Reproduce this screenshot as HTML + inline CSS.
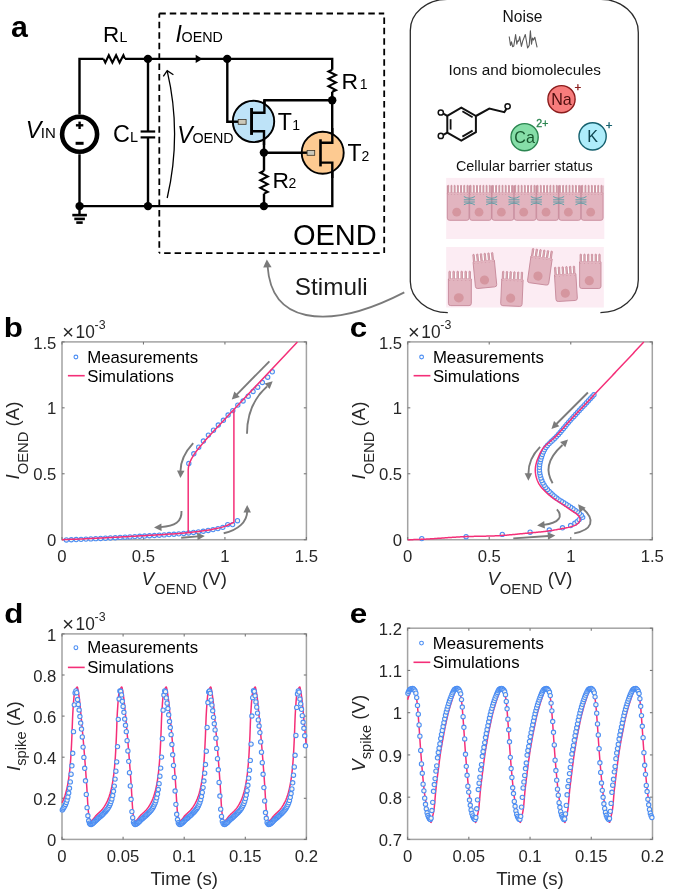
<!DOCTYPE html>
<html><head><meta charset="utf-8"><style>
html,body{margin:0;padding:0;background:#fff;}
body{width:685px;height:894px;overflow:hidden;}
svg{display:block;will-change:transform;}
text{font-family:"Liberation Sans",sans-serif;}
</style></head><body>
<svg width="685" height="894" viewBox="0 0 685 894" font-family="Liberation Sans, sans-serif">
<rect width="685" height="894" fill="#fff"/>
<g id="circuit">
<polyline points="79.5,114.5 79.5,58.9 103.5,58.9" fill="none" stroke="#000" stroke-width="2.4" stroke-linejoin="miter" />
<polyline points="103.5,58.9 105.3,62.6 108.8,55.2 112.4,62.6 116.1,55.2 119.6,62.6 123.4,55.2 125,58.9" fill="none" stroke="#000" stroke-width="2.1" stroke-linejoin="miter" stroke-miterlimit="10"/>
<polyline points="125,58.9 332.2,58.9 332.2,69.7" fill="none" stroke="#000" stroke-width="2.4" stroke-linejoin="miter" stroke-linecap="butt"/>
<polyline points="332.2,69.7 328.5,71.54 335.9,75.12 328.5,78.81 335.9,82.59 328.5,86.17 335.9,90.06 332.2,91.7" fill="none" stroke="#000" stroke-width="2.1" stroke-linejoin="miter" stroke-miterlimit="10"/>
<line x1="332.2" y1="91.7" x2="332.2" y2="142.8" stroke="#000" stroke-width="2.4" />
<polyline points="253,112.7 264.4,112.7 264.4,100.2 332.2,100.2" fill="none" stroke="#000" stroke-width="2.4" stroke-linejoin="miter" />
<polyline points="227.3,58.9 227.3,121.7 238.5,121.7" fill="none" stroke="#000" stroke-width="2.4" stroke-linejoin="miter" />
<polyline points="253,131.2 264,131.2 264,170.8" fill="none" stroke="#000" stroke-width="2.4" stroke-linejoin="miter" />
<polyline points="264,170.8 260.3,172.71 267.7,176.42 260.3,180.24 267.7,184.16 260.3,187.87 267.7,191.9 264,193.6" fill="none" stroke="#000" stroke-width="2.1" stroke-linejoin="miter" stroke-miterlimit="10"/>
<line x1="264" y1="193.6" x2="264" y2="206" stroke="#000" stroke-width="2.4" />
<line x1="264" y1="152.7" x2="307.2" y2="152.7" stroke="#000" stroke-width="2.4" />
<polyline points="321.8,142.8 332.3,142.8" fill="none" stroke="#000" stroke-width="2.4" stroke-linejoin="miter" />
<polyline points="321.8,162.6 332.3,162.6 332.3,206.1 79.5,206.1 79.5,154.2" fill="none" stroke="#000" stroke-width="2.4" stroke-linejoin="miter" />
<line x1="79.5" y1="206" x2="79.5" y2="215" stroke="#000" stroke-width="2.4" />
<line x1="72.3" y1="215.1" x2="86.9" y2="215.1" stroke="#000" stroke-width="2.6" />
<line x1="74.3" y1="218.9" x2="84.9" y2="218.9" stroke="#000" stroke-width="2.6" />
<line x1="76.3" y1="222.6" x2="82.7" y2="222.6" stroke="#000" stroke-width="2.6" />
<line x1="148" y1="58.9" x2="148" y2="131.5" stroke="#000" stroke-width="2.4" />
<line x1="148" y1="137.4" x2="148" y2="206.1" stroke="#000" stroke-width="2.4" />
<line x1="140.6" y1="131.5" x2="155.2" y2="131.5" stroke="#000" stroke-width="2.2" />
<line x1="140.6" y1="137.4" x2="155.2" y2="137.4" stroke="#000" stroke-width="2.2" />
<circle cx="79.6" cy="134.3" r="17.5" fill="none" stroke="#000" stroke-width="4.6"/>
<line x1="75.9" y1="125.3" x2="83.3" y2="125.3" stroke="#000" stroke-width="2.4" />
<line x1="79.6" y1="121.6" x2="79.6" y2="129" stroke="#000" stroke-width="2.4" />
<line x1="75.6" y1="143.3" x2="83.6" y2="143.3" stroke="#000" stroke-width="3.0" />
<circle cx="253.5" cy="121.4" r="20.7" fill="#bee3f8" stroke="#000" stroke-width="1.9"/>
<line x1="232" y1="121.7" x2="238.5" y2="121.7" stroke="#000" stroke-width="2.4" />
<rect x="238.2" y="119.4" width="7.9" height="4.9" fill="#cbc8ba" stroke="#3b3326" stroke-width="0.8"/>
<rect x="250.1" y="108" width="2.9" height="26.9" fill="#000"/>
<polyline points="253,112.7 264.4,112.7 264.4,100.2" fill="none" stroke="#000" stroke-width="2.4" stroke-linejoin="miter" />
<polyline points="253,131.2 264,131.2 264,145" fill="none" stroke="#000" stroke-width="2.4" stroke-linejoin="miter" />
<circle cx="322.7" cy="152.8" r="21" fill="#fdca91" stroke="#000" stroke-width="1.9"/>
<line x1="301" y1="152.7" x2="307.4" y2="152.7" stroke="#000" stroke-width="2.4" />
<rect x="307.1" y="150.4" width="7.6" height="4.9" fill="#cbc8ba" stroke="#3b3326" stroke-width="0.8"/>
<rect x="319.2" y="139.3" width="2.6" height="27.1" fill="#000"/>
<polyline points="321,142.8 332.3,142.8 332.3,128" fill="none" stroke="#000" stroke-width="2.4" stroke-linejoin="miter" />
<polyline points="321,162.6 332.3,162.6 332.3,178" fill="none" stroke="#000" stroke-width="2.4" stroke-linejoin="miter" />
<circle cx="147.9" cy="58.9" r="4.2" fill="#000"/>
<circle cx="227.2" cy="58.9" r="4.2" fill="#000"/>
<circle cx="332.2" cy="100.2" r="4.2" fill="#000"/>
<circle cx="263.9" cy="152.6" r="4.2" fill="#000"/>
<circle cx="263.9" cy="206.1" r="4.2" fill="#000"/>
<circle cx="79.6" cy="206.1" r="4.2" fill="#000"/>
<circle cx="148" cy="206.1" r="4.2" fill="#000"/>
<polygon points="195.7,54.7 202.4,58.9 195.7,63.1" fill="#000"/>
<path d="M167.2,198 Q182,134 167.2,70.8" fill="none" stroke="#000" stroke-width="1.3"/>
<polyline points="163.3,76.4 167.2,70.6 173.4,74.8" fill="none" stroke="#000" stroke-width="1.3"/>
<line x1="159.3" y1="13.5" x2="384.2" y2="13.5" stroke="#000" stroke-width="1.8" stroke-dasharray="6.5 3.95"/>
<line x1="159.3" y1="253.1" x2="159.3" y2="13.5" stroke="#000" stroke-width="1.8" stroke-dasharray="6.5 3.95" stroke-dashoffset="5.1"/>
<line x1="384.2" y1="13.5" x2="384.2" y2="253.1" stroke="#000" stroke-width="1.8" stroke-dasharray="6.5 3.95" stroke-dashoffset="6.55"/>
<line x1="159.3" y1="253.1" x2="383" y2="253.1" stroke="#000" stroke-width="1.8" stroke-dasharray="6.5 3.95" stroke-dashoffset="5.6"/>
<text x="10.9" y="36.6" font-size="30.3" font-weight="bold" font-style="normal" text-anchor="start" fill="#000" >a</text>
<text x="103.1" y="42.2" font-size="22.4" font-weight="normal" font-style="normal" text-anchor="start" fill="#000" >R</text>
<text x="119.5" y="42.2" font-size="14.2" font-weight="normal" font-style="normal" text-anchor="start" fill="#000" >L</text>
<text x="175.6" y="41.9" font-size="23" font-weight="normal" font-style="italic" text-anchor="start" fill="#000" >I</text>
<text x="181.6" y="41.9" font-size="14.3" font-weight="normal" font-style="normal" text-anchor="start" fill="#000" >OEND</text>
<text x="25.8" y="138.4" font-size="23.5" font-weight="normal" font-style="italic" text-anchor="start" fill="#000" >V</text>
<text x="40.8" y="138.4" font-size="15" font-weight="normal" font-style="normal" text-anchor="start" fill="#000" >IN</text>
<text x="112.9" y="141.5" font-size="23.4" font-weight="normal" font-style="normal" text-anchor="start" fill="#000" >C</text>
<text x="130" y="141.5" font-size="14.5" font-weight="normal" font-style="normal" text-anchor="start" fill="#000" >L</text>
<text x="177.3" y="142.9" font-size="23" font-weight="normal" font-style="italic" text-anchor="start" fill="#000" >V</text>
<text x="192.4" y="142.9" font-size="14.3" font-weight="normal" font-style="normal" text-anchor="start" fill="#000" >OEND</text>
<text x="277.7" y="130" font-size="23.2" font-weight="normal" font-style="normal" text-anchor="start" fill="#000" >T</text>
<text x="292.3" y="130" font-size="14" font-weight="normal" font-style="normal" text-anchor="start" fill="#000" >1</text>
<text x="347.4" y="161.2" font-size="23.0" font-weight="normal" font-style="normal" text-anchor="start" fill="#000" >T</text>
<text x="361.6" y="161.2" font-size="14" font-weight="normal" font-style="normal" text-anchor="start" fill="#000" >2</text>
<text x="341.5" y="88.5" font-size="22.9" font-weight="normal" font-style="normal" text-anchor="start" fill="#000" >R</text>
<text x="359.8" y="88.5" font-size="14" font-weight="normal" font-style="normal" text-anchor="start" fill="#000" >1</text>
<text x="272.6" y="188.3" font-size="22.8" font-weight="normal" font-style="normal" text-anchor="start" fill="#000" >R</text>
<text x="288.6" y="188.3" font-size="14" font-weight="normal" font-style="normal" text-anchor="start" fill="#000" >2</text>
<text x="292.9" y="244.6" font-size="29.0" font-weight="normal" font-style="normal" text-anchor="start" fill="#000" >OEND</text>
<text x="294.8" y="295.4" font-size="24.3" font-weight="normal" font-style="normal" text-anchor="start" fill="#1a1a1a" >Stimuli</text>
<path d="M404.3,292.4 C372,309 335,321 306,315 C282,310 269.5,293 267.6,266.5" fill="none" stroke="#7a7a7a" stroke-width="1.8"/>
<polygon points="266.8,259.6 263.2,267.6 271.6,267.2" fill="#7a7a7a"/>
</g>
<g id="bio">
<path d="M447,-0.6 A37,31 0 0 0 410.3,30.5 L410.3,281.5 A37.5,31.5 0 0 0 447.8,312.6" fill="none" stroke="#2b2b2b" stroke-width="1.3"/>
<path d="M601,-0.6 A37.3,33 0 0 1 638.3,32.5 L638.3,280 A37.9,32.8 0 0 1 600.4,312.6" fill="none" stroke="#2b2b2b" stroke-width="1.3"/>
<text x="502.5" y="21.5" font-size="15.6" font-weight="normal" font-style="normal" text-anchor="start" fill="#111" >Noise</text>
<polyline points="509.2,36.5 510.5,45.4 511.5,41.8 512.6,46.7 513.8,46 515.6,34.5 516.8,44.1 517.7,40.8 518.7,41.1 519.7,36.5 521.4,46.4 522.7,41.1 525.3,34.5 527.6,48 529.2,45.4 530.4,30.9 531.5,44.1 532.5,38.1 533.5,40.1 534.8,37.2 537.1,47.3" fill="none" stroke="#5a5a5a" stroke-width="1.1" stroke-linejoin="round"/>
<text x="448.6" y="75.4" font-size="15.3" font-weight="normal" font-style="normal" text-anchor="start" fill="#111" >Ions and biomolecules</text>
<text x="455.9" y="171.2" font-size="14.4" font-weight="normal" font-style="normal" text-anchor="start" fill="#111" >Cellular barrier status</text>
<polygon points="461.3,107.6 475.9,116 475.9,132.1 461.3,140.5 447.3,132.6 447.3,115.8" fill="none" stroke="#111" stroke-width="2"/>
<line x1="450.6" y1="119.2" x2="450.6" y2="129.6" stroke="#111" stroke-width="1.8" />
<line x1="462.4" y1="111.2" x2="472.6" y2="117.2" stroke="#111" stroke-width="1.8" />
<line x1="462.4" y1="136.6" x2="472.6" y2="130.6" stroke="#111" stroke-width="1.8" />
<polyline points="475.9,116 489.3,108.6 504.3,112.2 506.4,108.9" fill="none" stroke="#111" stroke-width="2" stroke-linejoin="miter" />
<line x1="447.3" y1="115.8" x2="443.3" y2="113.6" stroke="#111" stroke-width="2" />
<line x1="447.3" y1="132.6" x2="443.3" y2="134.9" stroke="#111" stroke-width="2" />
<circle cx="507.6" cy="106.3" r="2.6" fill="#fff" stroke="#111" stroke-width="1.5"/>
<circle cx="440.8" cy="112.5" r="2.6" fill="#fff" stroke="#111" stroke-width="1.5"/>
<circle cx="440.8" cy="135.9" r="2.6" fill="#fff" stroke="#111" stroke-width="1.5"/>
<circle cx="561.5" cy="99.2" r="13.6" fill="#f77c7c" stroke="#8a1c1c" stroke-width="1.4"/>
<text x="561.5" y="104.8" font-size="16.1" font-weight="normal" font-style="normal" text-anchor="middle" fill="#4d0d0d" >Na</text>
<text x="574.6" y="91" font-size="11.5" font-weight="normal" font-style="normal" text-anchor="start" fill="#8a1c1c" stroke="#8a1c1c" stroke-width="0.35">+</text>
<circle cx="524.6" cy="137.2" r="13.6" fill="#86dea8" stroke="#2b8550" stroke-width="1.4"/>
<text x="524.6" y="142.8" font-size="16.1" font-weight="normal" font-style="normal" text-anchor="middle" fill="#17562e" >Ca</text>
<text x="536.3" y="126.7" font-size="10.5" font-weight="normal" font-style="normal" text-anchor="start" fill="#2b8550" stroke="#2b8550" stroke-width="0.35">2+</text>
<circle cx="592.6" cy="136.4" r="13.6" fill="#aeedfb" stroke="#15606e" stroke-width="1.4"/>
<text x="592.6" y="142" font-size="16.1" font-weight="normal" font-style="normal" text-anchor="middle" fill="#0f4550" >K</text>
<text x="605.7" y="128.9" font-size="11.5" font-weight="normal" font-style="normal" text-anchor="start" fill="#15606e" stroke="#15606e" stroke-width="0.35">+</text>
<rect x="446.2" y="177.9" width="158.1" height="61.1" fill="#fcecf3"/>
<rect x="446.2" y="247" width="157.6" height="60.5" fill="#fcecf3"/>
<defs>
<g id="cellA">
 <rect x="0.4" y="1.6" width="21.6" height="7" fill="#fff"/>
 <path d="M0.3,8.2 L22.1,8.2 L22.1,33.2 Q22.1,35.4 19.9,35.4 L2.5,35.4 Q0.3,35.4 0.3,33.2 Z" fill="#e2b4bf" stroke="#c6899a" stroke-width="0.9"/>
 <path d="M0.35,0.6 V8.5 M22.05,0.6 V8.5" stroke="#c6899a" stroke-width="0.9"/>
 <g fill="#e6bcc6" stroke="#c27d8e" stroke-width="0.75">
  <rect x="0.75" y="0.4" width="1.0" height="9" rx="0.5"/>
  <rect x="3.95" y="0.4" width="1.0" height="9" rx="0.5"/>
  <rect x="7.15" y="0.4" width="1.0" height="9" rx="0.5"/>
  <rect x="10.35" y="0.4" width="1.0" height="9" rx="0.5"/>
  <rect x="13.55" y="0.4" width="1.0" height="9" rx="0.5"/>
  <rect x="16.75" y="0.4" width="1.0" height="9" rx="0.5"/>
  <rect x="19.95" y="0.4" width="1.0" height="9" rx="0.5"/>
 </g>
 <rect x="0.8" y="7.8" width="20.8" height="1.6" fill="#e2b4bf"/>
 <circle cx="9.7" cy="27.3" r="4.4" fill="#d5969f"/>
</g>
<g id="cellB">
 <rect x="0.4" y="1.6" width="21.2" height="7" fill="#fff"/>
 <path d="M0.3,8 L21.7,8 L21.7,32.4 Q21.7,34.6 19.5,34.6 L2.5,34.6 Q0.3,34.6 0.3,32.4 Z" fill="#e2b4bf" stroke="#c6899a" stroke-width="0.9"/>
 <g fill="#e6bcc6" stroke="#c27d8e" stroke-width="0.75">
  <rect x="0.75" y="0.2" width="1.4" height="9" rx="0.7"/>
  <rect x="4.50" y="0.2" width="1.4" height="9" rx="0.7"/>
  <rect x="8.25" y="0.2" width="1.4" height="9" rx="0.7"/>
  <rect x="12.00" y="0.2" width="1.4" height="9" rx="0.7"/>
  <rect x="15.75" y="0.2" width="1.4" height="9" rx="0.7"/>
  <rect x="19.50" y="0.2" width="1.4" height="9" rx="0.7"/>
 </g>
 <rect x="0.8" y="7.6" width="20.4" height="1.6" fill="#e2b4bf"/>
 <circle cx="10" cy="26.8" r="4.6" fill="#d5969f"/>
</g>
</defs>
<use href="#cellA" x="447" y="184.9"/>
<use href="#cellA" x="469.33" y="184.9"/>
<use href="#cellA" x="491.66" y="184.9"/>
<use href="#cellA" x="513.99" y="184.9"/>
<use href="#cellA" x="536.32" y="184.9"/>
<use href="#cellA" x="558.65" y="184.9"/>
<use href="#cellA" x="580.98" y="184.9"/>
<g stroke="#3f9aa2" stroke-width="0.8" fill="none"><path d="M463.83,196.5 Q469.33,200 474.83,196.5"/><path d="M463.83,199.8 L474.83,199.8"/><path d="M463.83,202 L474.83,202"/><path d="M463.83,204.8 Q469.33,201.5 474.83,204.8"/></g>
<g stroke="#3f9aa2" stroke-width="0.8" fill="none"><path d="M486.16,196.5 Q491.66,200 497.16,196.5"/><path d="M486.16,199.8 L497.16,199.8"/><path d="M486.16,202 L497.16,202"/><path d="M486.16,204.8 Q491.66,201.5 497.16,204.8"/></g>
<g stroke="#3f9aa2" stroke-width="0.8" fill="none"><path d="M508.49,196.5 Q513.99,200 519.49,196.5"/><path d="M508.49,199.8 L519.49,199.8"/><path d="M508.49,202 L519.49,202"/><path d="M508.49,204.8 Q513.99,201.5 519.49,204.8"/></g>
<g stroke="#3f9aa2" stroke-width="0.8" fill="none"><path d="M530.82,196.5 Q536.32,200 541.82,196.5"/><path d="M530.82,199.8 L541.82,199.8"/><path d="M530.82,202 L541.82,202"/><path d="M530.82,204.8 Q536.32,201.5 541.82,204.8"/></g>
<g stroke="#3f9aa2" stroke-width="0.8" fill="none"><path d="M553.15,196.5 Q558.65,200 564.15,196.5"/><path d="M553.15,199.8 L564.15,199.8"/><path d="M553.15,202 L564.15,202"/><path d="M553.15,204.8 Q558.65,201.5 564.15,204.8"/></g>
<g stroke="#3f9aa2" stroke-width="0.8" fill="none"><path d="M575.48,196.5 Q580.98,200 586.48,196.5"/><path d="M575.48,199.8 L586.48,199.8"/><path d="M575.48,202 L586.48,202"/><path d="M575.48,204.8 Q580.98,201.5 586.48,204.8"/></g>
<use href="#cellB" transform="translate(448.1,271) rotate(0) scale(1.07,1)"/>
<use href="#cellB" transform="translate(472,254.3) rotate(-5.5) scale(1,1)"/>
<use href="#cellB" transform="translate(501.8,271) rotate(2.5) scale(1,1)"/>
<use href="#cellB" transform="translate(531.8,248.1) rotate(8) scale(1,1)"/>
<use href="#cellB" transform="translate(553.7,267.1) rotate(-3.5) scale(1,1)"/>
<use href="#cellB" transform="translate(579.3,253.9) rotate(0) scale(1,1)"/>
</g>
<text transform="translate(3.75,337) scale(1.1,1)" font-size="28.5" font-weight="bold">b</text>
<rect x="62" y="341.9" width="244.4" height="197.8" fill="none" stroke="#a3a3a3" stroke-width="1.5"/>
<line x1="62" y1="539.7" x2="62" y2="537.1" stroke="#777" stroke-width="1.1" />
<line x1="62" y1="341.9" x2="62" y2="344.5" stroke="#777" stroke-width="1.1" />
<line x1="143.47" y1="539.7" x2="143.47" y2="537.1" stroke="#777" stroke-width="1.1" />
<line x1="143.47" y1="341.9" x2="143.47" y2="344.5" stroke="#777" stroke-width="1.1" />
<line x1="224.93" y1="539.7" x2="224.93" y2="537.1" stroke="#777" stroke-width="1.1" />
<line x1="224.93" y1="341.9" x2="224.93" y2="344.5" stroke="#777" stroke-width="1.1" />
<line x1="306.4" y1="539.7" x2="306.4" y2="537.1" stroke="#777" stroke-width="1.1" />
<line x1="306.4" y1="341.9" x2="306.4" y2="344.5" stroke="#777" stroke-width="1.1" />
<line x1="62" y1="539.7" x2="64.6" y2="539.7" stroke="#777" stroke-width="1.1" />
<line x1="306.4" y1="539.7" x2="303.8" y2="539.7" stroke="#777" stroke-width="1.1" />
<line x1="62" y1="473.77" x2="64.6" y2="473.77" stroke="#777" stroke-width="1.1" />
<line x1="306.4" y1="473.77" x2="303.8" y2="473.77" stroke="#777" stroke-width="1.1" />
<line x1="62" y1="407.83" x2="64.6" y2="407.83" stroke="#777" stroke-width="1.1" />
<line x1="306.4" y1="407.83" x2="303.8" y2="407.83" stroke="#777" stroke-width="1.1" />
<line x1="62" y1="341.9" x2="64.6" y2="341.9" stroke="#777" stroke-width="1.1" />
<line x1="306.4" y1="341.9" x2="303.8" y2="341.9" stroke="#777" stroke-width="1.1" />
<text x="62" y="561.9" font-size="16.7" font-weight="normal" font-style="normal" text-anchor="middle" fill="#262626" >0</text>
<text x="143.47" y="561.9" font-size="16.7" font-weight="normal" font-style="normal" text-anchor="middle" fill="#262626" >0.5</text>
<text x="224.93" y="561.9" font-size="16.7" font-weight="normal" font-style="normal" text-anchor="middle" fill="#262626" >1</text>
<text x="306.4" y="561.9" font-size="16.7" font-weight="normal" font-style="normal" text-anchor="middle" fill="#262626" >1.5</text>
<text x="56.4" y="546.3" font-size="16.7" font-weight="normal" font-style="normal" text-anchor="end" fill="#262626" >0</text>
<text x="56.4" y="480.37" font-size="16.7" font-weight="normal" font-style="normal" text-anchor="end" fill="#262626" >0.5</text>
<text x="56.4" y="414.43" font-size="16.7" font-weight="normal" font-style="normal" text-anchor="end" fill="#262626" >1</text>
<text x="56.4" y="348.5" font-size="16.7" font-weight="normal" font-style="normal" text-anchor="end" fill="#262626" >1.5</text>
<text x="62.3" y="339.3" font-size="20" fill="#262626">×</text>
<text transform="translate(75.6,337.6) scale(0.95,1)" font-size="18.2" fill="#262626">10</text>
<text x="94.6" y="329.1" font-size="12.4" fill="#262626">-3</text>
<g fill="#f8f5ee" stroke="#4c8ef3" stroke-width="1.1"><circle cx="66.4" cy="539.94" r="2.15"/><circle cx="71.29" cy="539.74" r="2.15"/><circle cx="76.18" cy="539.54" r="2.15"/><circle cx="81.06" cy="539.34" r="2.15"/><circle cx="85.95" cy="539.12" r="2.15"/><circle cx="90.84" cy="538.9" r="2.15"/><circle cx="95.73" cy="538.67" r="2.15"/><circle cx="100.62" cy="538.43" r="2.15"/><circle cx="105.5" cy="538.18" r="2.15"/><circle cx="110.39" cy="537.93" r="2.15"/><circle cx="115.28" cy="537.68" r="2.15"/><circle cx="120.17" cy="537.41" r="2.15"/><circle cx="125.06" cy="537.15" r="2.15"/><circle cx="129.94" cy="536.88" r="2.15"/><circle cx="134.83" cy="536.6" r="2.15"/><circle cx="139.72" cy="536.32" r="2.15"/><circle cx="144.61" cy="536.04" r="2.15"/><circle cx="149.5" cy="535.77" r="2.15"/><circle cx="154.38" cy="535.49" r="2.15"/><circle cx="159.27" cy="535.2" r="2.15"/><circle cx="164.16" cy="534.89" r="2.15"/><circle cx="169.05" cy="534.57" r="2.15"/><circle cx="173.94" cy="534.23" r="2.15"/><circle cx="178.82" cy="533.85" r="2.15"/><circle cx="183.71" cy="533.43" r="2.15"/><circle cx="188.6" cy="532.98" r="2.15"/><circle cx="193.49" cy="532.47" r="2.15"/><circle cx="198.38" cy="531.9" r="2.15"/><circle cx="203.26" cy="531.23" r="2.15"/><circle cx="208.15" cy="530.47" r="2.15"/><circle cx="213.04" cy="529.59" r="2.15"/><circle cx="217.93" cy="528.58" r="2.15"/><circle cx="222.82" cy="527.33" r="2.15"/><circle cx="227.7" cy="524.61" r="2.15"/><circle cx="232.59" cy="524.61" r="2.15"/><circle cx="237.48" cy="520.72" r="2.15"/><circle cx="188.8" cy="463.5" r="2.15"/><circle cx="193.8" cy="453.8" r="2.15"/><circle cx="198.7" cy="447.2" r="2.15"/><circle cx="203.4" cy="441" r="2.15"/><circle cx="208.4" cy="435.1" r="2.15"/><circle cx="213.5" cy="430.2" r="2.15"/><circle cx="218.3" cy="425" r="2.15"/><circle cx="223.4" cy="420.3" r="2.15"/><circle cx="228.1" cy="415" r="2.15"/><circle cx="232.8" cy="410.6" r="2.15"/><circle cx="237.8" cy="405.1" r="2.15"/><circle cx="243.1" cy="401" r="2.15"/><circle cx="248.2" cy="396.2" r="2.15"/><circle cx="253.1" cy="391.5" r="2.15"/><circle cx="257.7" cy="387.2" r="2.15"/><circle cx="262.4" cy="382.5" r="2.15"/><circle cx="267.7" cy="377.2" r="2.15"/><circle cx="272.3" cy="371.8" r="2.15"/></g>
<polyline points="62,539.7 64.91,539.59 67.83,539.48 70.74,539.37 73.65,539.25 76.57,539.13 79.48,539 82.39,538.88 85.31,538.75 88.22,538.62 91.14,538.48 94.05,538.35 96.96,538.21 99.88,538.06 102.79,537.92 105.7,537.77 108.62,537.62 111.53,537.47 114.44,537.32 117.36,537.17 120.27,537.01 123.18,536.85 126.1,536.69 129.01,536.53 131.93,536.37 134.84,536.2 137.75,536.03 140.67,535.87 143.58,535.7 146.49,535.54 149.41,535.37 152.32,535.2 155.23,535.04 158.15,534.86 161.06,534.69 163.97,534.51 166.89,534.32 169.8,534.12 172.72,533.91 175.63,533.7 178.54,533.47 181.46,533.23 184.37,532.98 187.28,532.71 190.2,532.42 193.11,532.11 196.02,531.78 198.94,531.42 201.85,531.03 204.76,530.61 207.68,530.15 210.59,529.65 213.51,529.1 216.42,528.51 219.33,527.87 222.25,527.11 225.16,526.12 228.07,524.95 230.99,523.67 233.9,522.35 233.9,409.46 297.4,341.9" fill="none" stroke="#f42f78" stroke-width="1.5" stroke-linejoin="round"/>
<path d="M188.2,532.62 L188.2,470 C188.4,460 196,451 208,437.3 L233.9,409.46" fill="none" stroke="#f42f78" stroke-width="1.5" stroke-linejoin="round"/>
<circle cx="75.9" cy="357" r="1.9" fill="none" stroke="#4c8ef3" stroke-width="1.1"/>
<line x1="67.9" y1="375.7" x2="84.7" y2="375.7" stroke="#f42f78" stroke-width="1.6" />
<text x="87.2" y="362.6" font-size="16.8" font-weight="normal" font-style="normal" text-anchor="start" fill="#000" >Measurements</text>
<text x="87.2" y="382" font-size="16.8" font-weight="normal" font-style="normal" text-anchor="start" fill="#000" >Simulations</text>
<path d="M269.4,361.3 L236.5,394.8" fill="none" stroke="#7b7b7b" stroke-width="1.9"/>
<polygon points="231.8,399.6 234.38,391.62 239.73,396.88" fill="#7b7b7b"/>
<path d="M247,433.7 C247,412 254,398 267,386.5" fill="none" stroke="#7b7b7b" stroke-width="1.9"/>
<polygon points="272.7,381.2 269.63,389 264.62,383.43" fill="#7b7b7b"/>
<path d="M193.2,443.1 C185,452 180.5,460 180.5,471" fill="none" stroke="#7b7b7b" stroke-width="1.9"/>
<polygon points="180.4,478.1 177.03,470.42 184.52,470.8" fill="#7b7b7b"/>
<path d="M181.5,511 C182,522 175,526 160.5,527.1" fill="none" stroke="#7b7b7b" stroke-width="1.9"/>
<polygon points="154,527.4 161.38,523.43 161.61,530.92" fill="#7b7b7b"/>
<path d="M181.2,537.7 L198,536.4" fill="none" stroke="#7b7b7b" stroke-width="1.9"/>
<polygon points="204.8,535.9 197.58,540.16 197.06,532.68" fill="#7b7b7b"/>
<path d="M223.7,533.3 C238,530 247,522 247.2,511.5" fill="none" stroke="#7b7b7b" stroke-width="1.9"/>
<polygon points="247.2,504.9 250.95,512.4 243.45,512.4" fill="#7b7b7b"/>
<text transform="translate(19.3,440.6) rotate(-90)" font-size="18.6" fill="#262626" text-anchor="middle"><tspan font-style="italic">I</tspan><tspan font-size="14.8" dy="9.0">OEND</tspan><tspan dy="-9.0"> (A)</tspan></text>
<text x="184.3" y="585" font-size="18.6" fill="#262626" text-anchor="middle"><tspan font-style="italic">V</tspan><tspan font-size="14.8" dy="8.8">OEND</tspan><tspan dy="-8.8"> (V)</tspan></text>
<text transform="translate(349.8,337.3) scale(1.1,1)" font-size="28.5" font-weight="bold">c</text>
<rect x="407.7" y="341.9" width="244.6" height="197.8" fill="none" stroke="#a3a3a3" stroke-width="1.5"/>
<line x1="407.7" y1="539.7" x2="407.7" y2="537.1" stroke="#777" stroke-width="1.1" />
<line x1="407.7" y1="341.9" x2="407.7" y2="344.5" stroke="#777" stroke-width="1.1" />
<line x1="489.23" y1="539.7" x2="489.23" y2="537.1" stroke="#777" stroke-width="1.1" />
<line x1="489.23" y1="341.9" x2="489.23" y2="344.5" stroke="#777" stroke-width="1.1" />
<line x1="570.77" y1="539.7" x2="570.77" y2="537.1" stroke="#777" stroke-width="1.1" />
<line x1="570.77" y1="341.9" x2="570.77" y2="344.5" stroke="#777" stroke-width="1.1" />
<line x1="652.3" y1="539.7" x2="652.3" y2="537.1" stroke="#777" stroke-width="1.1" />
<line x1="652.3" y1="341.9" x2="652.3" y2="344.5" stroke="#777" stroke-width="1.1" />
<line x1="407.7" y1="539.7" x2="410.3" y2="539.7" stroke="#777" stroke-width="1.1" />
<line x1="652.3" y1="539.7" x2="649.7" y2="539.7" stroke="#777" stroke-width="1.1" />
<line x1="407.7" y1="473.77" x2="410.3" y2="473.77" stroke="#777" stroke-width="1.1" />
<line x1="652.3" y1="473.77" x2="649.7" y2="473.77" stroke="#777" stroke-width="1.1" />
<line x1="407.7" y1="407.83" x2="410.3" y2="407.83" stroke="#777" stroke-width="1.1" />
<line x1="652.3" y1="407.83" x2="649.7" y2="407.83" stroke="#777" stroke-width="1.1" />
<line x1="407.7" y1="341.9" x2="410.3" y2="341.9" stroke="#777" stroke-width="1.1" />
<line x1="652.3" y1="341.9" x2="649.7" y2="341.9" stroke="#777" stroke-width="1.1" />
<text x="407.7" y="561.9" font-size="16.7" font-weight="normal" font-style="normal" text-anchor="middle" fill="#262626" >0</text>
<text x="489.23" y="561.9" font-size="16.7" font-weight="normal" font-style="normal" text-anchor="middle" fill="#262626" >0.5</text>
<text x="570.77" y="561.9" font-size="16.7" font-weight="normal" font-style="normal" text-anchor="middle" fill="#262626" >1</text>
<text x="652.3" y="561.9" font-size="16.7" font-weight="normal" font-style="normal" text-anchor="middle" fill="#262626" >1.5</text>
<text x="402.1" y="546.3" font-size="16.7" font-weight="normal" font-style="normal" text-anchor="end" fill="#262626" >0</text>
<text x="402.1" y="480.37" font-size="16.7" font-weight="normal" font-style="normal" text-anchor="end" fill="#262626" >0.5</text>
<text x="402.1" y="414.43" font-size="16.7" font-weight="normal" font-style="normal" text-anchor="end" fill="#262626" >1</text>
<text x="402.1" y="348.5" font-size="16.7" font-weight="normal" font-style="normal" text-anchor="end" fill="#262626" >1.5</text>
<text x="408" y="339.3" font-size="20" fill="#262626">×</text>
<text transform="translate(421.3,337.6) scale(0.95,1)" font-size="18.2" fill="#262626">10</text>
<text x="440.3" y="329.1" font-size="12.4" fill="#262626">-3</text>
<g fill="#f8f5ee" stroke="#4c8ef3" stroke-width="1.1"><circle cx="421.8" cy="538.6" r="2.15"/><circle cx="466.1" cy="536.7" r="2.15"/><circle cx="502.3" cy="534.4" r="2.15"/><circle cx="530.1" cy="532.2" r="2.15"/><circle cx="549.3" cy="530" r="2.15"/><circle cx="562.5" cy="527.8" r="2.15"/><circle cx="570.6" cy="525.5" r="2.15"/><circle cx="574.8" cy="523.3" r="2.15"/><circle cx="577.3" cy="521.4" r="2.15"/><circle cx="579.2" cy="519.6" r="2.15"/><circle cx="582.71" cy="517.36" r="2.15"/><circle cx="581.33" cy="515.13" r="2.15"/><circle cx="579.44" cy="513.35" r="2.15"/><circle cx="577.34" cy="511.83" r="2.15"/><circle cx="575.21" cy="510.34" r="2.15"/><circle cx="572.99" cy="508.8" r="2.15"/><circle cx="570.7" cy="507.25" r="2.15"/><circle cx="568.4" cy="505.71" r="2.15"/><circle cx="566.08" cy="504.22" r="2.15"/><circle cx="563.73" cy="502.76" r="2.15"/><circle cx="561.37" cy="501.31" r="2.15"/><circle cx="559.03" cy="499.83" r="2.15"/><circle cx="556.92" cy="498.31" r="2.15"/><circle cx="554.89" cy="496.71" r="2.15"/><circle cx="552.93" cy="495.03" r="2.15"/><circle cx="551.03" cy="493.26" r="2.15"/><circle cx="549.19" cy="491.41" r="2.15"/><circle cx="547.41" cy="489.48" r="2.15"/><circle cx="545.74" cy="487.45" r="2.15"/><circle cx="544.22" cy="485.29" r="2.15"/><circle cx="542.9" cy="482.99" r="2.15"/><circle cx="541.8" cy="480.55" r="2.15"/><circle cx="540.9" cy="477.99" r="2.15"/><circle cx="540.19" cy="475.37" r="2.15"/><circle cx="539.69" cy="472.7" r="2.15"/><circle cx="539.43" cy="470" r="2.15"/><circle cx="539.44" cy="467.3" r="2.15"/><circle cx="539.69" cy="464.63" r="2.15"/><circle cx="540.15" cy="462" r="2.15"/><circle cx="540.78" cy="459.44" r="2.15"/><circle cx="541.53" cy="456.92" r="2.15"/><circle cx="542.39" cy="454.43" r="2.15"/><circle cx="543.35" cy="451.99" r="2.15"/><circle cx="544.48" cy="449.64" r="2.15"/><circle cx="545.82" cy="447.45" r="2.15"/><circle cx="547.41" cy="445.45" r="2.15"/><circle cx="549.2" cy="443.6" r="2.15"/><circle cx="551.09" cy="441.82" r="2.15"/><circle cx="553.01" cy="440.05" r="2.15"/><circle cx="554.88" cy="438.23" r="2.15"/><circle cx="556.68" cy="436.35" r="2.15"/><circle cx="558.42" cy="434.42" r="2.15"/><circle cx="560.14" cy="432.45" r="2.15"/><circle cx="561.82" cy="430.45" r="2.15"/><circle cx="563.5" cy="428.43" r="2.15"/><circle cx="565.17" cy="426.4" r="2.15"/><circle cx="566.85" cy="424.37" r="2.15"/><circle cx="568.56" cy="422.35" r="2.15"/><circle cx="570.3" cy="420.35" r="2.15"/><circle cx="572.07" cy="418.37" r="2.15"/><circle cx="573.86" cy="416.4" r="2.15"/><circle cx="575.66" cy="414.44" r="2.15"/><circle cx="577.48" cy="412.48" r="2.15"/><circle cx="579.31" cy="410.52" r="2.15"/><circle cx="581.14" cy="408.57" r="2.15"/><circle cx="582.96" cy="406.6" r="2.15"/><circle cx="584.79" cy="404.64" r="2.15"/><circle cx="586.62" cy="402.67" r="2.15"/><circle cx="588.45" cy="400.7" r="2.15"/><circle cx="590.28" cy="398.72" r="2.15"/><circle cx="592.11" cy="396.75" r="2.15"/><circle cx="593.95" cy="394.78" r="2.15"/></g>
<polyline points="407.7,539.7 408.74,539.7 409.79,539.69 410.83,539.68 411.87,539.66 412.92,539.64 413.96,539.62 415,539.59 416.04,539.56 417.08,539.53 418.13,539.49 419.17,539.45 420.21,539.41 421.25,539.36 422.29,539.31 423.33,539.26 424.37,539.21 425.41,539.15 426.45,539.09 427.49,539.03 428.53,538.97 429.57,538.91 430.61,538.84 431.65,538.78 432.69,538.71 433.73,538.64 434.77,538.57 435.81,538.5 436.85,538.42 437.89,538.35 438.93,538.28 439.97,538.2 441.01,538.13 442.05,538.05 443.09,537.98 444.13,537.9 445.17,537.83 446.21,537.76 447.25,537.68 448.29,537.61 449.33,537.54 450.37,537.47 451.41,537.4 452.45,537.33 453.49,537.26 454.53,537.19 455.57,537.13 456.61,537.07 457.65,537.01 458.69,536.95 459.73,536.89 460.77,536.84 461.81,536.78 462.86,536.73 463.9,536.69 464.94,536.64 465.98,536.6 467.02,536.56 468.06,536.53 469.1,536.49 470.15,536.46 471.19,536.43 472.23,536.41 473.27,536.38 474.31,536.36 475.36,536.34 476.4,536.32 477.44,536.3 478.48,536.28 479.53,536.26 480.57,536.24 481.61,536.22 482.65,536.2 483.7,536.18 484.74,536.15 485.78,536.13 486.82,536.11 487.86,536.08 488.91,536.06 489.95,536.03 490.99,536 492.03,535.96 493.07,535.93 494.11,535.89 495.15,535.84 496.2,535.8 497.24,535.75 498.28,535.7 499.32,535.64 500.36,535.58 501.39,535.51 502.43,535.44 503.47,535.37 504.51,535.29 505.55,535.21 506.59,535.13 507.63,535.04 508.67,534.95 509.7,534.86 510.74,534.77 511.78,534.67 512.82,534.58 513.85,534.48 514.89,534.38 515.93,534.28 516.97,534.18 518.01,534.08 519.04,533.97 520.08,533.87 521.12,533.77 522.16,533.67 523.19,533.57 524.23,533.47 525.27,533.37 526.31,533.28 527.35,533.18 528.39,533.09 529.43,532.99 530.46,532.9 531.5,532.81 532.54,532.71 533.58,532.62 534.62,532.52 535.66,532.42 536.69,532.32 537.73,532.22 538.77,532.11 539.8,532.01 540.84,531.9 541.88,531.78 542.91,531.66 543.95,531.54 544.98,531.42 546.01,531.28 547.04,531.15 548.08,531.01 549.11,530.86 550.14,530.71 551.17,530.55 552.19,530.39 553.22,530.23 554.25,530.06 555.28,529.88 556.31,529.71 557.33,529.53 558.36,529.35 559.39,529.17 560.41,528.98 561.44,528.79 562.47,528.6 563.49,528.41 564.52,528.22 565.54,528.03 566.57,527.83 567.59,527.62 568.61,527.39 569.62,527.15 570.63,526.88 571.63,526.59 572.62,526.27 573.61,525.91 574.58,525.51 575.52,525.06 576.43,524.54 577.3,523.96 578.12,523.29 578.86,522.52 579.49,521.67 579.93,520.73 580.14,519.7 580.08,518.66 579.76,517.66 579.25,516.74 578.61,515.89 577.9,515.12 577.13,514.41 576.31,513.76 575.46,513.15 574.6,512.57 573.72,512 572.84,511.43 571.96,510.85 571.1,510.26 570.24,509.67 569.39,509.07 568.53,508.47 567.68,507.88 566.83,507.28 565.98,506.68 565.12,506.09 564.26,505.51 563.39,504.93 562.52,504.36 561.65,503.8 560.77,503.23 559.89,502.67 559.01,502.11 558.13,501.55 557.25,500.99 556.38,500.42 555.51,499.84 554.65,499.26 553.79,498.66 552.94,498.06 552.11,497.44 551.28,496.81 550.46,496.16 549.65,495.51 548.85,494.84 548.06,494.15 547.28,493.46 546.51,492.75 545.75,492.04 545,491.31 544.26,490.56 543.54,489.81 542.83,489.04 542.14,488.26 541.47,487.45 540.83,486.63 540.22,485.79 539.64,484.92 539.1,484.03 538.59,483.12 538.12,482.19 537.69,481.24 537.29,480.27 536.92,479.28 536.6,478.29 536.3,477.28 536.04,476.27 535.82,475.24 535.63,474.21 535.48,473.18 535.38,472.14 535.32,471.1 535.3,470.06 535.33,469.02 535.41,467.97 535.53,466.94 535.69,465.9 535.88,464.87 536.11,463.85 536.37,462.84 536.66,461.84 536.98,460.85 537.32,459.87 537.68,458.89 538.06,457.92 538.46,456.95 538.87,455.99 539.3,455.03 539.74,454.08 540.2,453.13 540.68,452.2 541.18,451.28 541.71,450.38 542.27,449.5 542.86,448.65 543.48,447.82 544.14,447.03 544.84,446.26 545.56,445.51 546.31,444.79 547.07,444.08 547.86,443.39 548.65,442.7 549.45,442.02 550.25,441.34 551.05,440.66 551.84,439.97 552.62,439.27 553.38,438.56 554.14,437.84 554.89,437.11 555.63,436.38 556.37,435.64 557.09,434.89 557.81,434.13 558.52,433.37 559.23,432.6 559.93,431.83 560.63,431.06 561.32,430.28 562.01,429.5 562.7,428.72 563.39,427.94 564.08,427.15 564.76,426.37 565.45,425.58 566.14,424.8 566.83,424.02 567.52,423.24 568.21,422.46 568.91,421.69 569.61,420.92 570.32,420.15 571.02,419.39 571.73,418.62 572.44,417.86 573.16,417.1 573.87,416.34 574.59,415.59 575.31,414.83 576.02,414.07 576.74,413.32 577.46,412.57 578.18,411.81 578.9,411.06 579.62,410.3 580.34,409.55 581.05,408.79 581.77,408.03 582.49,407.27 583.2,406.52 583.91,405.76 584.63,405 585.34,404.24 586.05,403.48 586.77,402.72 587.48,401.96 588.19,401.19 588.9,400.43 589.62,399.67 590.33,398.91 591.04,398.15 591.75,397.39 592.46,396.63 593.18,395.87 593.89,395.11 594.6,394.35 595.31,393.59 596.03,392.83 596.74,392.07 597.45,391.31 598.17,390.55 598.88,389.79 599.6,389.03 600.31,388.27 601.03,387.51 601.74,386.76 602.46,386 603.17,385.24 603.89,384.48 604.6,383.73 605.32,382.97 606.04,382.21 606.75,381.45 607.47,380.7 608.18,379.94 608.9,379.18 609.62,378.42 610.33,377.67 611.05,376.91 611.77,376.15 612.48,375.4 613.2,374.64 613.92,373.88 614.63,373.13 615.35,372.37 616.06,371.61 616.78,370.85 617.5,370.1 618.21,369.34 618.93,368.58 619.64,367.82 620.36,367.07 621.07,366.31 621.79,365.55 622.5,364.79 623.22,364.03 623.93,363.27 624.65,362.51 625.36,361.76 626.08,361 626.79,360.24 627.5,359.48 628.21,358.72 628.93,357.96 629.64,357.2 630.35,356.43 631.06,355.67 631.77,354.91 632.49,354.15 633.2,353.39 633.91,352.62 634.62,351.86 635.33,351.1 636.03,350.33 636.74,349.57 637.45,348.8 638.16,348.04 638.87,347.27 639.57,346.51 640.28,345.74 640.98,344.97 641.69,344.21 642.39,343.44 643.1,342.67 643.8,341.9" fill="none" stroke="#f42f78" stroke-width="1.5" stroke-linejoin="round"/>
<circle cx="421.6" cy="357" r="1.9" fill="none" stroke="#4c8ef3" stroke-width="1.1"/>
<line x1="413.6" y1="375.7" x2="430.4" y2="375.7" stroke="#f42f78" stroke-width="1.6" />
<text x="432.9" y="362.6" font-size="16.8" font-weight="normal" font-style="normal" text-anchor="start" fill="#000" >Measurements</text>
<text x="432.9" y="382" font-size="16.8" font-weight="normal" font-style="normal" text-anchor="start" fill="#000" >Simulations</text>
<path d="M587.9,392.5 L556.4,424.0" fill="none" stroke="#7b7b7b" stroke-width="1.9"/>
<polygon points="551.4,428.9 554.05,420.95 559.35,426.25" fill="#7b7b7b"/>
<path d="M552.6,483.3 C546,472 546,460 562.5,445.0" fill="none" stroke="#7b7b7b" stroke-width="1.9"/>
<polygon points="568,439.4 565.35,447.35 560.05,442.05" fill="#7b7b7b"/>
<path d="M540.1,446.9 C531,456 528.3,464 528.4,474" fill="none" stroke="#7b7b7b" stroke-width="1.9"/>
<polygon points="528.4,480.8 524.65,473.3 532.15,473.3" fill="#7b7b7b"/>
<path d="M556.9,509.3 C563,516 560,523 543.5,524.9" fill="none" stroke="#7b7b7b" stroke-width="1.9"/>
<polygon points="537.1,525.6 544.19,521.12 544.94,528.59" fill="#7b7b7b"/>
<path d="M513.3,538.4 L548.5,536.0" fill="none" stroke="#7b7b7b" stroke-width="1.9"/>
<polygon points="555.3,535.6 548,539.72 547.62,532.23" fill="#7b7b7b"/>
<path d="M574.2,533.4 C592,530 596,520 583,508.8" fill="none" stroke="#7b7b7b" stroke-width="1.9"/>
<polygon points="578.1,504.3 585.71,507.81 579.86,512.5" fill="#7b7b7b"/>
<text transform="translate(365,440.6) rotate(-90)" font-size="18.6" fill="#262626" text-anchor="middle"><tspan font-style="italic">I</tspan><tspan font-size="14.8" dy="9.0">OEND</tspan><tspan dy="-9.0"> (A)</tspan></text>
<text x="530" y="585" font-size="18.6" fill="#262626" text-anchor="middle"><tspan font-style="italic">V</tspan><tspan font-size="14.8" dy="8.8">OEND</tspan><tspan dy="-8.8"> (V)</tspan></text>
<text transform="translate(4.2,623.0) scale(1.1,1)" font-size="28.5" font-weight="bold">d</text>
<rect x="62" y="633.9" width="244.4" height="205.5" fill="none" stroke="#a3a3a3" stroke-width="1.5"/>
<line x1="62" y1="839.4" x2="62" y2="836.8" stroke="#777" stroke-width="1.1" />
<line x1="62" y1="633.9" x2="62" y2="636.5" stroke="#777" stroke-width="1.1" />
<line x1="123.1" y1="839.4" x2="123.1" y2="836.8" stroke="#777" stroke-width="1.1" />
<line x1="123.1" y1="633.9" x2="123.1" y2="636.5" stroke="#777" stroke-width="1.1" />
<line x1="184.2" y1="839.4" x2="184.2" y2="836.8" stroke="#777" stroke-width="1.1" />
<line x1="184.2" y1="633.9" x2="184.2" y2="636.5" stroke="#777" stroke-width="1.1" />
<line x1="245.3" y1="839.4" x2="245.3" y2="836.8" stroke="#777" stroke-width="1.1" />
<line x1="245.3" y1="633.9" x2="245.3" y2="636.5" stroke="#777" stroke-width="1.1" />
<line x1="306.4" y1="839.4" x2="306.4" y2="836.8" stroke="#777" stroke-width="1.1" />
<line x1="306.4" y1="633.9" x2="306.4" y2="636.5" stroke="#777" stroke-width="1.1" />
<line x1="62" y1="839.4" x2="64.6" y2="839.4" stroke="#777" stroke-width="1.1" />
<line x1="306.4" y1="839.4" x2="303.8" y2="839.4" stroke="#777" stroke-width="1.1" />
<line x1="62" y1="798.3" x2="64.6" y2="798.3" stroke="#777" stroke-width="1.1" />
<line x1="306.4" y1="798.3" x2="303.8" y2="798.3" stroke="#777" stroke-width="1.1" />
<line x1="62" y1="757.2" x2="64.6" y2="757.2" stroke="#777" stroke-width="1.1" />
<line x1="306.4" y1="757.2" x2="303.8" y2="757.2" stroke="#777" stroke-width="1.1" />
<line x1="62" y1="716.1" x2="64.6" y2="716.1" stroke="#777" stroke-width="1.1" />
<line x1="306.4" y1="716.1" x2="303.8" y2="716.1" stroke="#777" stroke-width="1.1" />
<line x1="62" y1="675" x2="64.6" y2="675" stroke="#777" stroke-width="1.1" />
<line x1="306.4" y1="675" x2="303.8" y2="675" stroke="#777" stroke-width="1.1" />
<line x1="62" y1="633.9" x2="64.6" y2="633.9" stroke="#777" stroke-width="1.1" />
<line x1="306.4" y1="633.9" x2="303.8" y2="633.9" stroke="#777" stroke-width="1.1" />
<text x="62" y="861.6" font-size="16.7" font-weight="normal" font-style="normal" text-anchor="middle" fill="#262626" >0</text>
<text x="123.1" y="861.6" font-size="16.7" font-weight="normal" font-style="normal" text-anchor="middle" fill="#262626" >0.05</text>
<text x="184.2" y="861.6" font-size="16.7" font-weight="normal" font-style="normal" text-anchor="middle" fill="#262626" >0.1</text>
<text x="245.3" y="861.6" font-size="16.7" font-weight="normal" font-style="normal" text-anchor="middle" fill="#262626" >0.15</text>
<text x="306.4" y="861.6" font-size="16.7" font-weight="normal" font-style="normal" text-anchor="middle" fill="#262626" >0.2</text>
<text x="56.4" y="846" font-size="16.7" font-weight="normal" font-style="normal" text-anchor="end" fill="#262626" >0</text>
<text x="56.4" y="804.9" font-size="16.7" font-weight="normal" font-style="normal" text-anchor="end" fill="#262626" >0.2</text>
<text x="56.4" y="763.8" font-size="16.7" font-weight="normal" font-style="normal" text-anchor="end" fill="#262626" >0.4</text>
<text x="56.4" y="722.7" font-size="16.7" font-weight="normal" font-style="normal" text-anchor="end" fill="#262626" >0.6</text>
<text x="56.4" y="681.6" font-size="16.7" font-weight="normal" font-style="normal" text-anchor="end" fill="#262626" >0.8</text>
<text x="56.4" y="640.5" font-size="16.7" font-weight="normal" font-style="normal" text-anchor="end" fill="#262626" >1</text>
<text x="62.3" y="631.3" font-size="20" fill="#262626">×</text>
<text transform="translate(75.6,629.6) scale(0.95,1)" font-size="18.2" fill="#262626">10</text>
<text x="94.6" y="621.1" font-size="12.4" fill="#262626">-3</text>
<polyline points="62,802.75 62.2,802.35 62.41,801.94 62.61,801.52 62.82,801.1 63.02,800.66 63.22,800.21 63.43,799.74 63.63,799.25 63.83,798.74 64.04,798.22 64.24,797.67 64.45,797.11 64.65,796.52 64.85,795.92 65.06,795.29 65.26,794.64 65.47,793.97 65.67,793.28 65.87,792.56 66.08,791.82 66.28,791.06 66.48,790.27 66.69,789.44 66.89,788.57 67.1,787.65 67.3,786.68 67.5,785.66 67.71,784.59 67.91,783.47 68.12,782.29 68.32,781.06 68.52,779.76 68.73,778.4 68.93,776.98 69.13,775.46 69.34,773.81 69.54,772.02 69.75,770.1 69.95,768.03 70.15,765.81 70.36,763.44 70.56,760.9 70.76,758.1 70.97,754.87 71.17,751.28 71.38,747.4 71.58,743.29 71.78,739.04 71.99,734.22 72.19,728.61 72.4,722.85 72.6,717.58 72.8,713.44 73.01,710.11 73.21,706.92 73.41,703.91 73.62,701.16 73.82,698.7 74.03,696.6 74.23,694.91 74.43,693.69 74.64,692.86 74.84,692.1 75.05,691.38 75.25,690.71 75.45,690.08 75.66,689.5 75.86,688.98 76.06,688.51 76.27,688.1 76.47,687.75 76.68,687.46 76.88,687.24 77.08,687.09 77.29,687.01 77.49,687.38 77.7,688.29 77.9,689.3 78.1,690.39 78.31,691.56 78.51,692.81 78.71,694.13 78.92,695.52 79.12,696.96 79.33,698.53 79.53,700.24 79.73,702.08 79.94,704.04 80.14,706.09 80.35,708.21 80.55,710.4 80.75,712.62 80.96,714.87 81.16,717.12 81.36,719.36 81.57,721.56 81.77,723.74 81.98,725.95 82.18,728.17 82.38,730.41 82.59,732.68 82.79,734.97 83,737.29 83.2,739.64 83.4,742.02 83.61,744.43 83.81,746.87 84.01,749.35 84.22,751.86 84.42,754.41 84.63,756.99 84.83,759.61 85.03,762.26 85.24,764.95 85.44,767.67 85.65,770.44 85.85,773.24 86.05,776.08 86.26,778.96 86.46,781.88 86.66,784.85 86.87,788.1 87.07,791.58 87.28,795.18 87.48,798.78 87.68,802.24 87.89,805.46 88.09,808.3 88.29,810.65 88.5,812.67 88.7,814.57 88.91,816.28 89.11,817.71 89.31,818.78 89.52,819.48 89.72,820.09 89.93,820.58 90.13,820.91 90.33,821 90.54,820.97 90.74,820.91 90.94,820.82 91.15,820.7 91.35,820.57 91.56,820.44 91.76,820.29 91.96,820.16 92.17,820 92.37,819.83 92.58,819.64 92.78,819.43 92.98,819.21 93.19,818.98 93.39,818.73 93.59,818.48 93.8,818.22 94,817.95 94.21,817.69 94.41,817.42 94.61,817.15 94.82,816.88 95.02,816.62 95.23,816.37 95.43,816.12 95.63,815.88 95.84,815.66 96.04,815.44 96.24,815.23 96.45,815.03 96.65,814.82 96.86,814.62 97.06,814.43 97.26,814.23 97.47,814.04 97.67,813.85 97.88,813.66 98.08,813.48 98.28,813.29 98.49,813.11 98.69,812.92 98.89,812.74 99.1,812.55 99.3,812.37 99.51,812.18 99.71,811.99 99.91,811.8 100.12,811.6 100.32,811.4 100.53,811.2 100.73,811 100.93,810.79 101.14,810.57 101.34,810.36 101.54,810.13 101.75,809.9 101.95,809.67 102.16,809.42 102.36,809.18 102.56,808.92 102.77,808.66 102.97,808.39 103.17,808.12 103.38,807.84 103.58,807.56 103.79,807.27 103.99,806.98 104.19,806.67 104.4,806.37 104.6,806.05 104.81,805.73 105.01,805.4 105.21,805.06 105.42,804.72 105.62,804.37 105.82,804.01 106.03,803.64 106.23,803.26 106.44,802.87 106.64,802.48 106.84,802.07 107.05,801.66 107.25,801.23 107.46,800.8 107.66,800.35 107.86,799.88 108.07,799.4 108.27,798.9 108.47,798.38 108.68,797.84 108.88,797.29 109.09,796.71 109.29,796.11 109.49,795.49 109.7,794.85 109.9,794.18 110.11,793.5 110.31,792.79 110.51,792.06 110.72,791.3 110.92,790.52 111.12,789.7 111.33,788.84 111.53,787.94 111.74,786.99 111.94,785.99 112.14,784.93 112.35,783.83 112.55,782.67 112.76,781.45 112.96,780.17 113.16,778.84 113.37,777.43 113.57,775.95 113.77,774.34 113.98,772.59 114.18,770.71 114.39,768.69 114.59,766.52 114.79,764.2 115,761.71 115.2,759.02 115.41,755.92 115.61,752.44 115.81,748.64 116.02,744.59 116.22,740.38 116.42,735.84 116.63,730.41 116.83,724.63 117.04,719.14 117.24,714.58 117.44,711.14 117.65,707.89 117.85,704.83 118.06,701.99 118.26,699.43 118.46,697.22 118.67,695.4 118.87,694.02 119.07,693.11 119.28,692.34 119.48,691.6 119.69,690.91 119.89,690.27 120.09,689.68 120.3,689.14 120.5,688.65 120.7,688.22 120.91,687.85 121.11,687.54 121.32,687.3 121.52,687.13 121.72,687.03 121.93,687.11 122.13,688 122.34,688.97 122.54,690.04 122.74,691.19 122.95,692.41 123.15,693.71 123.35,695.08 123.56,696.5 123.76,698.02 123.97,699.69 124.17,701.5 124.37,703.42 124.58,705.44 124.78,707.54 124.99,709.71 125.19,711.92 125.39,714.16 125.6,716.42 125.8,718.66 126,720.88 126.21,723.06 126.41,725.26 126.62,727.47 126.82,729.71 127.02,731.97 127.23,734.25 127.43,736.56 127.64,738.9 127.84,741.27 128.04,743.67 128.25,746.1 128.45,748.57 128.65,751.07 128.86,753.61 129.06,756.18 129.27,758.79 129.47,761.43 129.67,764.1 129.88,766.82 130.08,769.57 130.29,772.36 130.49,775.19 130.69,778.05 130.9,780.96 131.1,783.91 131.3,787.06 131.51,790.48 131.71,794.06 131.92,797.66 132.12,801.18 132.32,804.49 132.53,807.46 132.73,809.98 132.94,812.05 133.14,814 133.34,815.78 133.55,817.3 133.75,818.49 133.95,819.28 134.16,819.91 134.36,820.44 134.57,820.83 134.77,821 134.97,820.98 135.18,820.93 135.38,820.85 135.58,820.74 135.79,820.62 135.99,820.48 136.2,820.34 136.4,820.2 136.6,820.05 136.81,819.89 137.01,819.7 137.22,819.5 137.42,819.28 137.62,819.05 137.83,818.81 138.03,818.56 138.23,818.3 138.44,818.04 138.64,817.77 138.85,817.5 139.05,817.23 139.25,816.97 139.46,816.7 139.66,816.45 139.87,816.2 140.07,815.96 140.27,815.73 140.48,815.51 140.68,815.3 140.88,815.09 141.09,814.88 141.29,814.68 141.5,814.49 141.7,814.29 141.9,814.1 142.11,813.91 142.31,813.72 142.52,813.54 142.72,813.35 142.92,813.17 143.13,812.98 143.33,812.8 143.53,812.61 143.74,812.42 143.94,812.24 144.15,812.05 144.35,811.86 144.55,811.66 144.76,811.46 144.96,811.26 145.17,811.06 145.37,810.85 145.57,810.64 145.78,810.42 145.98,810.2 146.18,809.97 146.39,809.74 146.59,809.5 146.8,809.25 147,809 147.2,808.74 147.41,808.48 147.61,808.21 147.82,807.93 148.02,807.65 148.22,807.36 148.43,807.07 148.63,806.77 148.83,806.46 149.04,806.15 149.24,805.83 149.45,805.5 149.65,805.17 149.85,804.83 150.06,804.48 150.26,804.12 150.47,803.75 150.67,803.38 150.87,802.99 151.08,802.6 151.28,802.2 151.48,801.79 151.69,801.36 151.89,800.93 152.1,800.49 152.3,800.03 152.5,799.56 152.71,799.06 152.91,798.55 153.11,798.02 153.32,797.46 153.52,796.89 153.73,796.3 153.93,795.69 154.13,795.05 154.34,794.39 154.54,793.72 154.75,793.01 154.95,792.29 155.15,791.54 155.36,790.77 155.56,789.96 155.76,789.12 155.97,788.23 156.17,787.29 156.38,786.3 156.58,785.27 156.78,784.18 156.99,783.04 157.19,781.84 157.4,780.58 157.6,779.26 157.8,777.88 158.01,776.43 158.21,774.85 158.41,773.15 158.62,771.32 158.82,769.34 159.03,767.21 159.23,764.94 159.43,762.5 159.64,759.9 159.84,756.94 160.05,753.56 160.25,749.85 160.45,745.88 160.66,741.71 160.86,737.36 161.06,732.17 161.27,726.43 161.47,720.78 161.68,715.86 161.88,712.18 162.08,708.89 162.29,705.76 162.49,702.85 162.7,700.2 162.9,697.87 163.1,695.92 163.31,694.4 163.51,693.36 163.71,692.57 163.92,691.83 164.12,691.12 164.33,690.47 164.53,689.86 164.73,689.3 164.94,688.8 165.14,688.35 165.35,687.96 165.55,687.63 165.75,687.37 165.96,687.18 166.16,687.05 166.36,687 166.57,687.71 166.77,688.66 166.98,689.7 167.18,690.82 167.38,692.02 167.59,693.3 167.79,694.64 167.99,696.05 168.2,697.53 168.4,699.15 168.61,700.92 168.81,702.81 169.01,704.8 169.22,706.88 169.42,709.03 169.63,711.23 169.83,713.46 170.03,715.71 170.24,717.96 170.44,720.19 170.64,722.38 170.85,724.57 171.05,726.78 171.26,729.01 171.46,731.26 171.66,733.54 171.87,735.84 172.07,738.17 172.28,740.53 172.48,742.92 172.68,745.34 172.89,747.8 173.09,750.29 173.29,752.81 173.5,755.37 173.7,757.97 173.91,760.6 174.11,763.27 174.31,765.97 174.52,768.71 174.72,771.48 174.93,774.3 175.13,777.15 175.33,780.05 175.54,782.98 175.74,786.04 175.94,789.39 176.15,792.93 176.35,796.54 176.56,800.1 176.76,803.49 176.96,806.57 177.17,809.25 177.37,811.42 177.58,813.4 177.78,815.24 177.98,816.86 178.19,818.16 178.39,819.07 178.59,819.72 178.8,820.29 179,820.73 179.21,820.97 179.41,820.99 179.61,820.95 179.82,820.88 180.02,820.78 180.23,820.66 180.43,820.52 180.63,820.38 180.84,820.24 181.04,820.1 181.24,819.94 181.45,819.76 181.65,819.56 181.86,819.35 182.06,819.13 182.26,818.89 182.47,818.64 182.67,818.38 182.88,818.12 183.08,817.85 183.28,817.59 183.49,817.32 183.69,817.05 183.89,816.78 184.1,816.53 184.3,816.27 184.51,816.03 184.71,815.8 184.91,815.58 185.12,815.36 185.32,815.15 185.52,814.95 185.73,814.75 185.93,814.55 186.14,814.35 186.34,814.16 186.54,813.97 186.75,813.78 186.95,813.59 187.16,813.41 187.36,813.22 187.56,813.04 187.77,812.85 187.97,812.67 188.17,812.48 188.38,812.3 188.58,812.11 188.79,811.92 188.99,811.72 189.19,811.53 189.4,811.33 189.6,811.12 189.81,810.92 190.01,810.71 190.21,810.49 190.42,810.27 190.62,810.05 190.82,809.81 191.03,809.58 191.23,809.33 191.44,809.08 191.64,808.82 191.84,808.56 192.05,808.29 192.25,808.02 192.46,807.74 192.66,807.45 192.86,807.16 193.07,806.86 193.27,806.56 193.47,806.25 193.68,805.93 193.88,805.61 194.09,805.27 194.29,804.94 194.49,804.59 194.7,804.23 194.9,803.87 195.11,803.5 195.31,803.11 195.51,802.72 195.72,802.32 195.92,801.92 196.12,801.5 196.33,801.07 196.53,800.63 196.74,800.18 196.94,799.71 197.14,799.22 197.35,798.71 197.55,798.18 197.76,797.64 197.96,797.07 198.16,796.49 198.37,795.88 198.57,795.25 198.77,794.6 198.98,793.93 199.18,793.23 199.39,792.52 199.59,791.78 199.79,791.01 200,790.22 200.2,789.39 200.41,788.51 200.61,787.59 200.81,786.62 201.02,785.6 201.22,784.53 201.42,783.4 201.63,782.22 201.83,780.98 202.04,779.68 202.24,778.32 202.44,776.89 202.65,775.36 202.85,773.7 203.05,771.9 203.26,769.97 203.46,767.89 203.67,765.67 203.87,763.28 204.07,760.74 204.28,757.91 204.48,754.65 204.69,751.04 204.89,747.14 205.09,743.02 205.3,738.76 205.5,733.88 205.7,728.24 205.91,722.5 206.11,717.28 206.32,713.23 206.52,709.9 206.72,706.72 206.93,703.73 207.13,700.99 207.34,698.56 207.54,696.48 207.74,694.82 207.95,693.63 208.15,692.81 208.35,692.06 208.56,691.34 208.76,690.67 208.97,690.04 209.17,689.47 209.37,688.95 209.58,688.48 209.78,688.07 209.99,687.73 210.19,687.44 210.39,687.23 210.6,687.08 210.8,687.01 211,687.43 211.21,688.35 211.41,689.37 211.62,690.46 211.82,691.64 212.02,692.89 212.23,694.22 212.43,695.61 212.64,697.06 212.84,698.63 213.04,700.35 213.25,702.2 213.45,704.17 213.65,706.22 213.86,708.35 214.06,710.54 214.27,712.76 214.47,715.01 214.67,717.26 214.88,719.5 215.08,721.7 215.29,723.88 215.49,726.09 215.69,728.31 215.9,730.55 216.1,732.82 216.3,735.12 216.51,737.44 216.71,739.79 216.92,742.17 217.12,744.58 217.32,747.03 217.53,749.51 217.73,752.02 217.93,754.57 218.14,757.16 218.34,759.77 218.55,762.43 218.75,765.12 218.95,767.85 219.16,770.61 219.36,773.42 219.57,776.26 219.77,779.14 219.97,782.06 220.18,785.05 220.38,788.32 220.58,791.81 220.79,795.41 220.99,799 221.2,802.45 221.4,805.65 221.6,808.46 221.81,810.78 222.01,812.79 222.22,814.69 222.42,816.38 222.62,817.79 222.83,818.83 223.03,819.52 223.23,820.12 223.44,820.61 223.64,820.92 223.85,821 224.05,820.97 224.25,820.9 224.46,820.81 224.66,820.7 224.87,820.56 225.07,820.43 225.27,820.29 225.48,820.15 225.68,819.99 225.88,819.82 226.09,819.63 226.29,819.42 226.5,819.2 226.7,818.96 226.9,818.72 227.11,818.46 227.31,818.2 227.52,817.94 227.72,817.67 227.92,817.4 228.13,817.13 228.33,816.87 228.53,816.61 228.74,816.35 228.94,816.11 229.15,815.87 229.35,815.65 229.55,815.43 229.76,815.22 229.96,815.01 230.17,814.81 230.37,814.61 230.57,814.41 230.78,814.22 230.98,814.03 231.18,813.84 231.39,813.65 231.59,813.47 231.8,813.28 232,813.1 232.2,812.91 232.41,812.73 232.61,812.54 232.82,812.35 233.02,812.17 233.22,811.98 233.43,811.78 233.63,811.59 233.83,811.39 234.04,811.19 234.24,810.98 234.45,810.77 234.65,810.56 234.85,810.34 235.06,810.12 235.26,809.89 235.46,809.65 235.67,809.41 235.87,809.16 236.08,808.9 236.28,808.64 236.48,808.37 236.69,808.1 236.89,807.83 237.1,807.54 237.3,807.25 237.5,806.96 237.71,806.66 237.91,806.35 238.11,806.03 238.32,805.71 238.52,805.38 238.73,805.04 238.93,804.7 239.13,804.34 239.34,803.98 239.54,803.61 239.75,803.23 239.95,802.85 240.15,802.45 240.36,802.04 240.56,801.63 240.76,801.2 240.97,800.77 241.17,800.32 241.38,799.85 241.58,799.37 241.78,798.87 241.99,798.35 242.19,797.81 242.4,797.25 242.6,796.67 242.8,796.07 243.01,795.45 243.21,794.81 243.41,794.14 243.62,793.45 243.82,792.74 244.03,792.01 244.23,791.25 244.43,790.47 244.64,789.65 244.84,788.79 245.05,787.88 245.25,786.93 245.45,785.92 245.66,784.87 245.86,783.76 246.06,782.59 246.27,781.37 246.47,780.09 246.68,778.75 246.88,777.34 247.08,775.85 247.29,774.23 247.49,772.48 247.7,770.59 247.9,768.56 248.1,766.38 248.31,764.04 248.51,761.55 248.71,758.84 248.92,755.71 249.12,752.2 249.33,748.39 249.53,744.33 249.73,740.1 249.94,735.51 250.14,730.04 250.34,724.26 250.55,718.81 250.75,714.33 250.96,710.93 251.16,707.69 251.36,704.64 251.57,701.82 251.77,699.28 251.98,697.09 252.18,695.29 252.38,693.95 252.59,693.06 252.79,692.29 252.99,691.56 253.2,690.87 253.4,690.23 253.61,689.64 253.81,689.1 254.01,688.62 254.22,688.19 254.42,687.83 254.63,687.53 254.83,687.29 255.03,687.12 255.24,687.02 255.44,687.17 255.64,688.06 255.85,689.04 256.05,690.11 256.26,691.26 256.46,692.49 256.66,693.8 256.87,695.16 257.07,696.6 257.28,698.12 257.48,699.8 257.68,701.61 257.89,703.54 258.09,705.57 258.29,707.68 258.5,709.85 258.7,712.07 258.91,714.31 259.11,716.56 259.31,718.8 259.52,721.02 259.72,723.2 259.93,725.4 260.13,727.61 260.33,729.85 260.54,732.11 260.74,734.4 260.94,736.71 261.15,739.05 261.35,741.42 261.56,743.82 261.76,746.26 261.96,748.73 262.17,751.23 262.37,753.77 262.58,756.35 262.78,758.95 262.98,761.6 263.19,764.28 263.39,766.99 263.59,769.75 263.8,772.54 264,775.37 264.21,778.24 264.41,781.15 264.61,784.1 264.82,787.27 265.02,790.7 265.23,794.28 265.43,797.89 265.63,801.4 265.84,804.69 266.04,807.63 266.24,810.12 266.45,812.17 266.65,814.11 266.86,815.88 267.06,817.39 267.26,818.55 267.47,819.32 267.67,819.94 267.87,820.47 268.08,820.85 268.28,821 268.49,820.98 268.69,820.93 268.89,820.84 269.1,820.73 269.3,820.61 269.51,820.47 269.71,820.33 269.91,820.19 270.12,820.04 270.32,819.88 270.52,819.69 270.73,819.49 270.93,819.27 271.14,819.04 271.34,818.8 271.54,818.54 271.75,818.29 271.95,818.02 272.16,817.75 272.36,817.48 272.56,817.22 272.77,816.95 272.97,816.69 273.17,816.43 273.38,816.18 273.58,815.94 273.79,815.71 273.99,815.5 274.19,815.28 274.4,815.08 274.6,814.87 274.81,814.67 275.01,814.47 275.21,814.28 275.42,814.09 275.62,813.9 275.82,813.71 276.03,813.52 276.23,813.34 276.44,813.15 276.64,812.97 276.84,812.78 277.05,812.6 277.25,812.41 277.46,812.22 277.66,812.03 277.86,811.84 278.07,811.65 278.27,811.45 278.47,811.25 278.68,811.05 278.88,810.84 279.09,810.63 279.29,810.41 279.49,810.19 279.7,809.96 279.9,809.73 280.11,809.49 280.31,809.24 280.51,808.98 280.72,808.72 280.92,808.46 281.12,808.19 281.33,807.91 281.53,807.63 281.74,807.34 281.94,807.05 282.14,806.75 282.35,806.44 282.55,806.13 282.75,805.81 282.96,805.48 283.16,805.15 283.37,804.81 283.57,804.45 283.77,804.1 283.98,803.73 284.18,803.35 284.39,802.97 284.59,802.58 284.79,802.17 285,801.76 285.2,801.34 285.4,800.91 285.61,800.46 285.81,800 286.02,799.52 286.22,799.03 286.42,798.51 286.63,797.98 286.83,797.43 287.04,796.85 287.24,796.26 287.44,795.65 287.65,795.01 287.85,794.35 288.05,793.67 288.26,792.97 288.46,792.24 288.67,791.49 288.87,790.72 289.07,789.91 289.28,789.06 289.48,788.17 289.69,787.23 289.89,786.24 290.09,785.2 290.3,784.11 290.5,782.96 290.7,781.76 290.91,780.5 291.11,779.17 291.32,777.79 291.52,776.33 291.72,774.75 291.93,773.04 292.13,771.2 292.34,769.21 292.54,767.07 292.74,764.79 292.95,762.34 293.15,759.73 293.35,756.73 293.56,753.34 293.76,749.61 293.97,745.62 294.17,741.44 294.37,737.06 294.58,731.81 294.78,726.06 294.99,720.44 295.19,715.59 295.39,711.97 295.6,708.69 295.8,705.57 296,702.67 296.21,700.04 296.41,697.74 296.62,695.81 296.82,694.32 297.02,693.31 297.23,692.52 297.43,691.78 297.64,691.08 297.84,690.43 298.04,689.82 298.25,689.27 298.45,688.77 298.65,688.32 298.86,687.94 299.06,687.61 299.27,687.36 299.47,687.17 299.67,687.05 299.88,687 300.08,687.77 300.28,688.72 300.49,689.77 300.69,690.9 300.9,692.1 301.1,693.38 301.3,694.73 301.51,696.14 301.71,697.63 301.92,699.26 302.12,701.03 302.32,702.93 302.53,704.93 302.73,707.01 302.93,709.17 303.14,711.37 303.34,713.61 303.55,715.86 303.75,718.1 303.95,720.33 304.16,722.52 304.36,724.71 304.57,726.92 304.77,729.15 304.97,731.4 305.18,733.68 305.38,735.99 305.58,738.32 305.79,740.68 305.99,743.07 306.2,745.5 306.4,747.95" fill="none" stroke="#f42f78" stroke-width="1.5" stroke-linejoin="round"/>
<g fill="#f8f5ee" stroke="#4c8ef3" stroke-width="1.1"><circle cx="62.3" cy="809.89" r="2.15"/><circle cx="63.1" cy="808.8" r="2.15"/><circle cx="63.9" cy="807.56" r="2.15"/><circle cx="64.7" cy="806.12" r="2.15"/><circle cx="65.5" cy="804.43" r="2.15"/><circle cx="66.3" cy="802.43" r="2.15"/><circle cx="67.1" cy="800.06" r="2.15"/><circle cx="67.9" cy="796.94" r="2.15"/><circle cx="68.7" cy="792.98" r="2.15"/><circle cx="69.5" cy="788.26" r="2.15"/><circle cx="70.3" cy="781.89" r="2.15"/><circle cx="71.1" cy="774.2" r="2.15"/><circle cx="71.9" cy="765.79" r="2.15"/><circle cx="72.7" cy="753.29" r="2.15"/><circle cx="73.5" cy="731.63" r="2.15"/><circle cx="74.3" cy="704.83" r="2.15"/><circle cx="75.1" cy="692.89" r="2.15"/><circle cx="75.9" cy="690.95" r="2.15"/><circle cx="76.7" cy="692.63" r="2.15"/><circle cx="77.5" cy="699.55" r="2.15"/><circle cx="78.3" cy="704.44" r="2.15"/><circle cx="79.1" cy="710" r="2.15"/><circle cx="79.9" cy="716.5" r="2.15"/><circle cx="80.7" cy="723.03" r="2.15"/><circle cx="81.5" cy="729.07" r="2.15"/><circle cx="82.3" cy="736.93" r="2.15"/><circle cx="83.1" cy="747.12" r="2.15"/><circle cx="83.9" cy="757.38" r="2.15"/><circle cx="84.7" cy="768.29" r="2.15"/><circle cx="85.5" cy="780.78" r="2.15"/><circle cx="86.3" cy="794.4" r="2.15"/><circle cx="87.1" cy="807.64" r="2.15"/><circle cx="87.9" cy="815.76" r="2.15"/><circle cx="88.7" cy="820.74" r="2.15"/><circle cx="89.5" cy="823.2" r="2.15"/><circle cx="90.3" cy="824.28" r="2.15"/><circle cx="91.1" cy="824.46" r="2.15"/><circle cx="91.9" cy="824.05" r="2.15"/><circle cx="92.7" cy="823.45" r="2.15"/><circle cx="93.5" cy="822.82" r="2.15"/><circle cx="94.3" cy="822.06" r="2.15"/><circle cx="95.1" cy="821.22" r="2.15"/><circle cx="95.9" cy="820.39" r="2.15"/><circle cx="96.7" cy="819.63" r="2.15"/><circle cx="97.5" cy="818.91" r="2.15"/><circle cx="98.3" cy="818.22" r="2.15"/><circle cx="99.1" cy="817.54" r="2.15"/><circle cx="99.9" cy="816.85" r="2.15"/><circle cx="100.7" cy="816.16" r="2.15"/><circle cx="101.5" cy="815.44" r="2.15"/><circle cx="102.3" cy="814.69" r="2.15"/><circle cx="103.1" cy="813.9" r="2.15"/><circle cx="103.9" cy="813.09" r="2.15"/><circle cx="104.7" cy="812.28" r="2.15"/><circle cx="105.5" cy="811.43" r="2.15"/><circle cx="106.3" cy="810.52" r="2.15"/><circle cx="107.1" cy="809.5" r="2.15"/><circle cx="107.9" cy="808.35" r="2.15"/><circle cx="108.7" cy="807.04" r="2.15"/><circle cx="109.5" cy="805.51" r="2.15"/><circle cx="110.3" cy="803.72" r="2.15"/><circle cx="111.1" cy="801.59" r="2.15"/><circle cx="111.9" cy="798.99" r="2.15"/><circle cx="112.7" cy="795.55" r="2.15"/><circle cx="113.5" cy="791.3" r="2.15"/><circle cx="114.3" cy="786.1" r="2.15"/><circle cx="115.1" cy="779.1" r="2.15"/><circle cx="115.9" cy="771.22" r="2.15"/><circle cx="116.7" cy="761.87" r="2.15"/><circle cx="117.5" cy="746.58" r="2.15"/><circle cx="118.3" cy="719.36" r="2.15"/><circle cx="119.1" cy="699" r="2.15"/><circle cx="119.9" cy="690.95" r="2.15"/><circle cx="120.7" cy="691.24" r="2.15"/><circle cx="121.5" cy="694.9" r="2.15"/><circle cx="122.3" cy="701.3" r="2.15"/><circle cx="123.1" cy="706.46" r="2.15"/><circle cx="123.9" cy="712.31" r="2.15"/><circle cx="124.7" cy="719.05" r="2.15"/><circle cx="125.5" cy="725.25" r="2.15"/><circle cx="126.3" cy="731.66" r="2.15"/><circle cx="127.1" cy="740.63" r="2.15"/><circle cx="127.9" cy="750.95" r="2.15"/><circle cx="128.7" cy="761.36" r="2.15"/><circle cx="129.5" cy="772.7" r="2.15"/><circle cx="130.3" cy="785.88" r="2.15"/><circle cx="131.1" cy="799.3" r="2.15"/><circle cx="131.9" cy="811.6" r="2.15"/><circle cx="132.7" cy="817.69" r="2.15"/><circle cx="133.5" cy="822.13" r="2.15"/><circle cx="134.3" cy="823.7" r="2.15"/><circle cx="135.1" cy="824.46" r="2.15"/><circle cx="135.9" cy="824.35" r="2.15"/><circle cx="136.7" cy="823.83" r="2.15"/><circle cx="137.5" cy="823.23" r="2.15"/><circle cx="138.3" cy="822.55" r="2.15"/><circle cx="139.1" cy="821.75" r="2.15"/><circle cx="139.9" cy="820.9" r="2.15"/><circle cx="140.7" cy="820.09" r="2.15"/><circle cx="141.5" cy="819.36" r="2.15"/><circle cx="142.3" cy="818.65" r="2.15"/><circle cx="143.1" cy="817.96" r="2.15"/><circle cx="143.9" cy="817.28" r="2.15"/><circle cx="144.7" cy="816.6" r="2.15"/><circle cx="145.5" cy="815.89" r="2.15"/><circle cx="146.3" cy="815.17" r="2.15"/><circle cx="147.1" cy="814.4" r="2.15"/><circle cx="147.9" cy="813.6" r="2.15"/><circle cx="148.7" cy="812.79" r="2.15"/><circle cx="149.5" cy="811.97" r="2.15"/><circle cx="150.3" cy="811.1" r="2.15"/><circle cx="151.1" cy="810.15" r="2.15"/><circle cx="151.9" cy="809.09" r="2.15"/><circle cx="152.7" cy="807.88" r="2.15"/><circle cx="153.5" cy="806.5" r="2.15"/><circle cx="154.3" cy="804.87" r="2.15"/><circle cx="155.1" cy="802.96" r="2.15"/><circle cx="155.9" cy="800.7" r="2.15"/><circle cx="156.7" cy="797.8" r="2.15"/><circle cx="157.5" cy="794.05" r="2.15"/><circle cx="158.3" cy="789.52" r="2.15"/><circle cx="159.1" cy="783.66" r="2.15"/><circle cx="159.9" cy="776.18" r="2.15"/><circle cx="160.7" cy="768.08" r="2.15"/><circle cx="161.5" cy="757.1" r="2.15"/><circle cx="162.3" cy="738.7" r="2.15"/><circle cx="163.1" cy="710.15" r="2.15"/><circle cx="163.9" cy="695.07" r="2.15"/><circle cx="164.7" cy="690.84" r="2.15"/><circle cx="165.5" cy="691.72" r="2.15"/><circle cx="166.3" cy="697.91" r="2.15"/><circle cx="167.1" cy="703.15" r="2.15"/><circle cx="167.9" cy="708.56" r="2.15"/><circle cx="168.7" cy="714.8" r="2.15"/><circle cx="169.5" cy="721.5" r="2.15"/><circle cx="170.3" cy="727.49" r="2.15"/><circle cx="171.1" cy="734.66" r="2.15"/><circle cx="171.9" cy="744.52" r="2.15"/><circle cx="172.7" cy="754.79" r="2.15"/><circle cx="173.5" cy="765.46" r="2.15"/><circle cx="174.3" cy="777.46" r="2.15"/><circle cx="175.1" cy="791.02" r="2.15"/><circle cx="175.9" cy="804.34" r="2.15"/><circle cx="176.7" cy="814.28" r="2.15"/><circle cx="177.5" cy="819.54" r="2.15"/><circle cx="178.3" cy="822.81" r="2.15"/><circle cx="179.1" cy="824.09" r="2.15"/><circle cx="179.9" cy="824.5" r="2.15"/><circle cx="180.7" cy="824.18" r="2.15"/><circle cx="181.5" cy="823.6" r="2.15"/><circle cx="182.3" cy="822.99" r="2.15"/><circle cx="183.1" cy="822.26" r="2.15"/><circle cx="183.9" cy="821.43" r="2.15"/><circle cx="184.7" cy="820.59" r="2.15"/><circle cx="185.5" cy="819.81" r="2.15"/><circle cx="186.3" cy="819.09" r="2.15"/><circle cx="187.1" cy="818.39" r="2.15"/><circle cx="187.9" cy="817.71" r="2.15"/><circle cx="188.7" cy="817.03" r="2.15"/><circle cx="189.5" cy="816.33" r="2.15"/><circle cx="190.3" cy="815.62" r="2.15"/><circle cx="191.1" cy="814.88" r="2.15"/><circle cx="191.9" cy="814.1" r="2.15"/><circle cx="192.7" cy="813.29" r="2.15"/><circle cx="193.5" cy="812.49" r="2.15"/><circle cx="194.3" cy="811.65" r="2.15"/><circle cx="195.1" cy="810.75" r="2.15"/><circle cx="195.9" cy="809.76" r="2.15"/><circle cx="196.7" cy="808.65" r="2.15"/><circle cx="197.5" cy="807.39" r="2.15"/><circle cx="198.3" cy="805.92" r="2.15"/><circle cx="199.1" cy="804.19" r="2.15"/><circle cx="199.9" cy="802.16" r="2.15"/><circle cx="200.7" cy="799.72" r="2.15"/><circle cx="201.5" cy="796.49" r="2.15"/><circle cx="202.3" cy="792.43" r="2.15"/><circle cx="203.1" cy="787.58" r="2.15"/><circle cx="203.9" cy="780.98" r="2.15"/><circle cx="204.7" cy="773.21" r="2.15"/><circle cx="205.5" cy="764.56" r="2.15"/><circle cx="206.3" cy="751.18" r="2.15"/><circle cx="207.1" cy="727.46" r="2.15"/><circle cx="207.9" cy="702.53" r="2.15"/><circle cx="208.7" cy="692.03" r="2.15"/><circle cx="209.5" cy="691.04" r="2.15"/><circle cx="210.3" cy="693.28" r="2.15"/><circle cx="211.1" cy="700.12" r="2.15"/><circle cx="211.9" cy="705.1" r="2.15"/><circle cx="212.7" cy="710.74" r="2.15"/><circle cx="213.5" cy="717.36" r="2.15"/><circle cx="214.3" cy="723.77" r="2.15"/><circle cx="215.1" cy="729.9" r="2.15"/><circle cx="215.9" cy="738.14" r="2.15"/><circle cx="216.7" cy="748.4" r="2.15"/><circle cx="217.5" cy="758.7" r="2.15"/><circle cx="218.3" cy="769.73" r="2.15"/><circle cx="219.1" cy="782.47" r="2.15"/><circle cx="219.9" cy="796.06" r="2.15"/><circle cx="220.7" cy="809.14" r="2.15"/><circle cx="221.5" cy="816.43" r="2.15"/><circle cx="222.3" cy="821.28" r="2.15"/><circle cx="223.1" cy="823.37" r="2.15"/><circle cx="223.9" cy="824.36" r="2.15"/><circle cx="224.7" cy="824.43" r="2.15"/><circle cx="225.5" cy="823.98" r="2.15"/><circle cx="226.3" cy="823.37" r="2.15"/><circle cx="227.1" cy="822.73" r="2.15"/><circle cx="227.9" cy="821.96" r="2.15"/><circle cx="228.7" cy="821.11" r="2.15"/><circle cx="229.5" cy="820.29" r="2.15"/><circle cx="230.3" cy="819.54" r="2.15"/><circle cx="231.1" cy="818.83" r="2.15"/><circle cx="231.9" cy="818.13" r="2.15"/><circle cx="232.7" cy="817.45" r="2.15"/><circle cx="233.5" cy="816.77" r="2.15"/><circle cx="234.3" cy="816.07" r="2.15"/><circle cx="235.1" cy="815.35" r="2.15"/><circle cx="235.9" cy="814.6" r="2.15"/><circle cx="236.7" cy="813.8" r="2.15"/><circle cx="237.5" cy="812.99" r="2.15"/><circle cx="238.3" cy="812.18" r="2.15"/><circle cx="239.1" cy="811.32" r="2.15"/><circle cx="239.9" cy="810.4" r="2.15"/><circle cx="240.7" cy="809.36" r="2.15"/><circle cx="241.5" cy="808.2" r="2.15"/><circle cx="242.3" cy="806.87" r="2.15"/><circle cx="243.1" cy="805.31" r="2.15"/><circle cx="243.9" cy="803.47" r="2.15"/><circle cx="244.7" cy="801.3" r="2.15"/><circle cx="245.5" cy="798.61" r="2.15"/><circle cx="246.3" cy="795.06" r="2.15"/><circle cx="247.1" cy="790.72" r="2.15"/><circle cx="247.9" cy="785.32" r="2.15"/><circle cx="248.7" cy="778.14" r="2.15"/><circle cx="249.5" cy="770.2" r="2.15"/><circle cx="250.3" cy="760.4" r="2.15"/><circle cx="251.1" cy="744.08" r="2.15"/><circle cx="251.9" cy="716" r="2.15"/><circle cx="252.7" cy="697.65" r="2.15"/><circle cx="253.5" cy="690.8" r="2.15"/><circle cx="254.3" cy="691.37" r="2.15"/><circle cx="255.1" cy="695.84" r="2.15"/><circle cx="255.9" cy="701.9" r="2.15"/><circle cx="256.7" cy="707.15" r="2.15"/><circle cx="257.5" cy="713.12" r="2.15"/><circle cx="258.3" cy="719.88" r="2.15"/><circle cx="259.1" cy="725.98" r="2.15"/><circle cx="259.9" cy="732.6" r="2.15"/><circle cx="260.7" cy="741.92" r="2.15"/><circle cx="261.5" cy="752.22" r="2.15"/><circle cx="262.3" cy="762.71" r="2.15"/><circle cx="263.1" cy="774.25" r="2.15"/><circle cx="263.9" cy="787.6" r="2.15"/><circle cx="264.7" cy="800.93" r="2.15"/><circle cx="265.5" cy="812.57" r="2.15"/><circle cx="266.3" cy="818.3" r="2.15"/><circle cx="267.1" cy="822.4" r="2.15"/><circle cx="267.9" cy="823.84" r="2.15"/><circle cx="268.7" cy="824.49" r="2.15"/><circle cx="269.5" cy="824.3" r="2.15"/><circle cx="270.3" cy="823.75" r="2.15"/><circle cx="271.1" cy="823.15" r="2.15"/><circle cx="271.9" cy="822.45" r="2.15"/><circle cx="272.7" cy="821.64" r="2.15"/><circle cx="273.5" cy="820.8" r="2.15"/><circle cx="274.3" cy="820" r="2.15"/><circle cx="275.1" cy="819.27" r="2.15"/><circle cx="275.9" cy="818.57" r="2.15"/><circle cx="276.7" cy="817.88" r="2.15"/><circle cx="277.5" cy="817.2" r="2.15"/><circle cx="278.3" cy="816.51" r="2.15"/><circle cx="279.1" cy="815.8" r="2.15"/><circle cx="279.9" cy="815.07" r="2.15"/><circle cx="280.7" cy="814.3" r="2.15"/><circle cx="281.5" cy="813.5" r="2.15"/><circle cx="282.3" cy="812.69" r="2.15"/><circle cx="283.1" cy="811.87" r="2.15"/><circle cx="283.9" cy="810.99" r="2.15"/><circle cx="284.7" cy="810.02" r="2.15"/><circle cx="285.5" cy="808.94" r="2.15"/><circle cx="286.3" cy="807.72" r="2.15"/><circle cx="287.1" cy="806.31" r="2.15"/><circle cx="287.9" cy="804.65" r="2.15"/><circle cx="288.7" cy="802.7" r="2.15"/><circle cx="289.5" cy="800.39" r="2.15"/><circle cx="290.3" cy="797.37" r="2.15"/><circle cx="291.1" cy="793.52" r="2.15"/><circle cx="291.9" cy="788.9" r="2.15"/><circle cx="292.7" cy="782.79" r="2.15"/><circle cx="293.5" cy="775.19" r="2.15"/><circle cx="294.3" cy="766.96" r="2.15"/><circle cx="295.1" cy="755.26" r="2.15"/><circle cx="295.9" cy="735.47" r="2.15"/><circle cx="296.7" cy="707.39" r="2.15"/><circle cx="297.5" cy="693.91" r="2.15"/><circle cx="298.3" cy="690.89" r="2.15"/><circle cx="299.1" cy="692.1" r="2.15"/><circle cx="299.9" cy="699" r="2.15"/><circle cx="300.7" cy="703.79" r="2.15"/><circle cx="301.5" cy="709.28" r="2.15"/><circle cx="302.3" cy="715.65" r="2.15"/><circle cx="303.1" cy="722.27" r="2.15"/><circle cx="303.9" cy="728.27" r="2.15"/><circle cx="304.7" cy="735.77" r="2.15"/><circle cx="305.5" cy="745.82" r="2.15"/></g>
<circle cx="75.9" cy="647.7" r="1.9" fill="none" stroke="#4c8ef3" stroke-width="1.1"/>
<line x1="67.9" y1="667.4" x2="84.7" y2="667.4" stroke="#f42f78" stroke-width="1.6" />
<text x="87.2" y="653.3" font-size="16.8" font-weight="normal" font-style="normal" text-anchor="start" fill="#000" >Measurements</text>
<text x="87.2" y="672.8" font-size="16.8" font-weight="normal" font-style="normal" text-anchor="start" fill="#000" >Simulations</text>
<text transform="translate(19.6,736.2) rotate(-90)" font-size="18.6" fill="#262626" text-anchor="middle"><tspan font-style="italic">I</tspan><tspan font-size="14.8" dy="6.4">spike</tspan><tspan dy="-6.4"> (A)</tspan></text>
<text x="184.2" y="884.6" font-size="18.6" fill="#262626" text-anchor="middle">Time (s)</text>
<text transform="translate(349.8,622.9) scale(1.1,1)" font-size="28.5" font-weight="bold">e</text>
<rect x="407.6" y="628.2" width="244.9" height="211.2" fill="none" stroke="#a3a3a3" stroke-width="1.5"/>
<line x1="407.6" y1="839.4" x2="407.6" y2="836.8" stroke="#777" stroke-width="1.1" />
<line x1="407.6" y1="628.2" x2="407.6" y2="630.8" stroke="#777" stroke-width="1.1" />
<line x1="468.83" y1="839.4" x2="468.83" y2="836.8" stroke="#777" stroke-width="1.1" />
<line x1="468.83" y1="628.2" x2="468.83" y2="630.8" stroke="#777" stroke-width="1.1" />
<line x1="530.05" y1="839.4" x2="530.05" y2="836.8" stroke="#777" stroke-width="1.1" />
<line x1="530.05" y1="628.2" x2="530.05" y2="630.8" stroke="#777" stroke-width="1.1" />
<line x1="591.27" y1="839.4" x2="591.27" y2="836.8" stroke="#777" stroke-width="1.1" />
<line x1="591.27" y1="628.2" x2="591.27" y2="630.8" stroke="#777" stroke-width="1.1" />
<line x1="652.5" y1="839.4" x2="652.5" y2="836.8" stroke="#777" stroke-width="1.1" />
<line x1="652.5" y1="628.2" x2="652.5" y2="630.8" stroke="#777" stroke-width="1.1" />
<line x1="407.6" y1="839.4" x2="410.2" y2="839.4" stroke="#777" stroke-width="1.1" />
<line x1="652.5" y1="839.4" x2="649.9" y2="839.4" stroke="#777" stroke-width="1.1" />
<line x1="407.6" y1="797.16" x2="410.2" y2="797.16" stroke="#777" stroke-width="1.1" />
<line x1="652.5" y1="797.16" x2="649.9" y2="797.16" stroke="#777" stroke-width="1.1" />
<line x1="407.6" y1="754.92" x2="410.2" y2="754.92" stroke="#777" stroke-width="1.1" />
<line x1="652.5" y1="754.92" x2="649.9" y2="754.92" stroke="#777" stroke-width="1.1" />
<line x1="407.6" y1="712.68" x2="410.2" y2="712.68" stroke="#777" stroke-width="1.1" />
<line x1="652.5" y1="712.68" x2="649.9" y2="712.68" stroke="#777" stroke-width="1.1" />
<line x1="407.6" y1="670.44" x2="410.2" y2="670.44" stroke="#777" stroke-width="1.1" />
<line x1="652.5" y1="670.44" x2="649.9" y2="670.44" stroke="#777" stroke-width="1.1" />
<line x1="407.6" y1="628.2" x2="410.2" y2="628.2" stroke="#777" stroke-width="1.1" />
<line x1="652.5" y1="628.2" x2="649.9" y2="628.2" stroke="#777" stroke-width="1.1" />
<text x="407.6" y="861.6" font-size="16.7" font-weight="normal" font-style="normal" text-anchor="middle" fill="#262626" >0</text>
<text x="468.83" y="861.6" font-size="16.7" font-weight="normal" font-style="normal" text-anchor="middle" fill="#262626" >0.05</text>
<text x="530.05" y="861.6" font-size="16.7" font-weight="normal" font-style="normal" text-anchor="middle" fill="#262626" >0.1</text>
<text x="591.27" y="861.6" font-size="16.7" font-weight="normal" font-style="normal" text-anchor="middle" fill="#262626" >0.15</text>
<text x="652.5" y="861.6" font-size="16.7" font-weight="normal" font-style="normal" text-anchor="middle" fill="#262626" >0.2</text>
<text x="402" y="846" font-size="16.7" font-weight="normal" font-style="normal" text-anchor="end" fill="#262626" >0.7</text>
<text x="402" y="803.76" font-size="16.7" font-weight="normal" font-style="normal" text-anchor="end" fill="#262626" >0.8</text>
<text x="402" y="761.52" font-size="16.7" font-weight="normal" font-style="normal" text-anchor="end" fill="#262626" >0.9</text>
<text x="402" y="719.28" font-size="16.7" font-weight="normal" font-style="normal" text-anchor="end" fill="#262626" >1</text>
<text x="402" y="677.04" font-size="16.7" font-weight="normal" font-style="normal" text-anchor="end" fill="#262626" >1.1</text>
<text x="402" y="634.8" font-size="16.7" font-weight="normal" font-style="normal" text-anchor="end" fill="#262626" >1.2</text>
<polyline points="407.6,699.65 407.8,699.04 408.01,698.44 408.21,697.84 408.42,697.24 408.62,696.65 408.83,696.07 409.03,695.5 409.23,694.94 409.44,694.39 409.64,693.85 409.85,693.32 410.05,692.81 410.26,692.3 410.46,691.81 410.66,691.34 410.87,690.88 411.07,690.42 411.28,689.98 411.48,689.54 411.69,689.12 411.89,688.71 412.09,688.3 412.3,687.91 412.5,687.53 412.71,687.16 412.91,687.03 413.11,687.15 413.32,687.36 413.52,687.65 413.73,687.99 413.93,688.4 414.14,688.84 414.34,689.33 414.54,689.83 414.75,690.35 414.95,690.91 415.16,691.57 415.36,692.33 415.57,693.2 415.77,694.16 415.97,695.21 416.18,696.34 416.38,697.56 416.59,698.86 416.79,700.24 417,701.69 417.2,703.33 417.4,705.3 417.61,707.55 417.81,710.01 418.02,712.63 418.22,715.35 418.43,718.11 418.63,720.86 418.83,723.58 419.04,726.46 419.24,729.47 419.45,732.57 419.65,735.7 419.86,738.84 420.06,741.92 420.26,744.9 420.47,747.75 420.67,750.53 420.88,753.28 421.08,755.99 421.28,758.66 421.49,761.26 421.69,763.8 421.9,766.26 422.1,768.64 422.31,770.96 422.51,773.27 422.71,775.57 422.92,777.84 423.12,780.06 423.33,782.24 423.53,784.35 423.74,786.39 423.94,788.33 424.14,790.18 424.35,791.91 424.55,793.52 424.76,795 424.96,796.44 425.17,797.82 425.37,799.16 425.57,800.46 425.78,801.71 425.98,802.92 426.19,804.08 426.39,805.21 426.6,806.3 426.8,807.35 427,808.37 427.21,809.35 427.41,810.3 427.62,811.21 427.82,812.1 428.03,812.95 428.23,813.76 428.43,814.52 428.64,815.25 428.84,815.95 429.05,816.62 429.25,817.28 429.46,817.91 429.66,818.54 429.86,819.23 430.07,819.98 430.27,820.73 430.48,821.41 430.68,821.95 430.88,822.3 431.09,822.39 431.29,822.01 431.5,821.22 431.7,820.21 431.91,819.17 432.11,818.26 432.31,817.43 432.52,816.62 432.72,815.81 432.93,814.98 433.13,814.11 433.34,813.19 433.54,812.19 433.74,811.1 433.95,809.89 434.15,808.52 434.36,806.76 434.56,804.66 434.77,802.32 434.97,799.83 435.17,797.31 435.38,794.84 435.58,792.52 435.79,790.46 435.99,788.56 436.2,786.71 436.4,784.91 436.6,783.16 436.81,781.45 437.01,779.77 437.22,778.12 437.42,776.48 437.63,774.87 437.83,773.26 438.03,771.66 438.24,770.05 438.44,768.44 438.65,766.83 438.85,765.23 439.06,763.64 439.26,762.06 439.46,760.5 439.67,758.96 439.87,757.44 440.08,755.96 440.28,754.5 440.48,753.09 440.69,751.71 440.89,750.39 441.1,749.09 441.3,747.83 441.51,746.59 441.71,745.38 441.91,744.19 442.12,743.02 442.32,741.87 442.53,740.74 442.73,739.62 442.94,738.52 443.14,737.43 443.34,736.36 443.55,735.29 443.75,734.23 443.96,733.17 444.16,732.12 444.37,731.07 444.57,730.02 444.77,728.98 444.98,727.94 445.18,726.9 445.39,725.87 445.59,724.85 445.8,723.85 446,722.85 446.2,721.87 446.41,720.9 446.61,719.94 446.82,719 447.02,718.09 447.23,717.19 447.43,716.31 447.63,715.46 447.84,714.63 448.04,713.82 448.25,713.02 448.45,712.24 448.65,711.47 448.86,710.72 449.06,709.97 449.27,709.24 449.47,708.52 449.68,707.8 449.88,707.1 450.08,706.41 450.29,705.73 450.49,705.05 450.7,704.39 450.9,703.73 451.11,703.08 451.31,702.44 451.51,701.8 451.72,701.17 451.92,700.55 452.13,699.93 452.33,699.32 452.54,698.71 452.74,698.11 452.94,697.51 453.15,696.92 453.35,696.34 453.56,695.76 453.76,695.2 453.97,694.64 454.17,694.09 454.37,693.56 454.58,693.04 454.78,692.53 454.99,692.03 455.19,691.55 455.4,691.09 455.6,690.63 455.8,690.18 456.01,689.74 456.21,689.31 456.42,688.89 456.62,688.48 456.83,688.09 457.03,687.7 457.23,687.33 457.44,687 457.64,687.09 457.85,687.26 458.05,687.51 458.25,687.83 458.46,688.21 458.66,688.64 458.87,689.1 459.07,689.6 459.28,690.12 459.48,690.65 459.68,691.26 459.89,691.97 460.09,692.79 460.3,693.71 460.5,694.72 460.71,695.82 460.91,697 461.11,698.26 461.32,699.61 461.52,701.02 461.73,702.54 461.93,704.37 462.14,706.5 462.34,708.87 462.54,711.43 462.75,714.11 462.95,716.86 463.16,719.62 463.36,722.33 463.57,725.13 463.77,728.09 463.97,731.15 464.18,734.28 464.38,737.42 464.59,740.53 464.79,743.56 465,746.48 465.2,749.27 465.4,752.04 465.61,754.77 465.81,757.45 466.02,760.09 466.22,762.66 466.43,765.16 466.63,767.57 466.83,769.9 467.04,772.22 467.24,774.53 467.45,776.81 467.65,779.06 467.85,781.26 468.06,783.4 468.26,785.47 468.47,787.46 468.67,789.35 468.88,791.14 469.08,792.8 469.28,794.34 469.49,795.79 469.69,797.2 469.9,798.56 470.1,799.87 470.31,801.15 470.51,802.37 470.71,803.56 470.92,804.7 471.12,805.81 471.33,806.88 471.53,807.91 471.74,808.91 471.94,809.87 472.14,810.8 472.35,811.7 472.55,812.57 472.76,813.4 472.96,814.18 473.17,814.93 473.37,815.64 473.57,816.32 473.78,816.98 473.98,817.63 474.19,818.26 474.39,818.91 474.6,819.64 474.8,820.39 475,821.11 475.21,821.73 475.41,822.17 475.62,822.39 475.82,822.24 476.02,821.62 476.23,820.69 476.43,819.64 476.64,818.65 476.84,817.8 477.05,816.98 477.25,816.18 477.45,815.36 477.66,814.51 477.86,813.62 478.07,812.66 478.27,811.61 478.48,810.46 478.68,809.18 478.88,807.61 479.09,805.65 479.29,803.4 479.5,800.97 479.7,798.45 479.91,795.94 480.11,793.55 480.31,791.36 480.52,789.41 480.72,787.54 480.93,785.72 481.13,783.95 481.34,782.22 481.54,780.53 481.74,778.86 481.95,777.22 482.15,775.6 482.36,773.99 482.56,772.39 482.77,770.78 482.97,769.17 483.17,767.56 483.38,765.96 483.58,764.36 483.79,762.77 483.99,761.2 484.2,759.65 484.4,758.13 484.6,756.63 484.81,755.16 485.01,753.73 485.22,752.33 485.42,750.98 485.62,749.68 485.83,748.4 486.03,747.15 486.24,745.93 486.44,744.73 486.65,743.55 486.85,742.39 487.05,741.25 487.26,740.13 487.46,739.02 487.67,737.93 487.87,736.84 488.08,735.77 488.28,734.71 488.48,733.65 488.69,732.6 488.89,731.55 489.1,730.5 489.3,729.45 489.51,728.41 489.71,727.37 489.91,726.34 490.12,725.32 490.32,724.3 490.53,723.3 490.73,722.31 490.94,721.33 491.14,720.37 491.34,719.43 491.55,718.5 491.75,717.59 491.96,716.71 492.16,715.84 492.37,715 492.57,714.18 492.77,713.38 492.98,712.59 493.18,711.82 493.39,711.06 493.59,710.31 493.79,709.57 494,708.84 494.2,708.13 494.41,707.42 494.61,706.72 494.82,706.04 495.02,705.36 495.22,704.69 495.43,704.03 495.63,703.37 495.84,702.73 496.04,702.09 496.25,701.46 496.45,700.83 496.65,700.21 496.86,699.6 497.06,698.99 497.27,698.38 497.47,697.78 497.68,697.19 497.88,696.6 498.08,696.02 498.29,695.45 498.49,694.89 498.7,694.34 498.9,693.8 499.11,693.27 499.31,692.76 499.51,692.26 499.72,691.77 499.92,691.3 500.13,690.83 500.33,690.38 500.54,689.94 500.74,689.5 500.94,689.08 501.15,688.67 501.35,688.27 501.56,687.88 501.76,687.5 501.97,687.13 502.17,687.04 502.37,687.17 502.58,687.39 502.78,687.68 502.99,688.03 503.19,688.44 503.39,688.89 503.6,689.37 503.8,689.88 504.01,690.4 504.21,690.97 504.42,691.64 504.62,692.41 504.82,693.28 505.03,694.25 505.23,695.31 505.44,696.45 505.64,697.68 505.85,698.99 506.05,700.37 506.25,701.82 506.46,703.5 506.66,705.5 506.87,707.77 507.07,710.25 507.28,712.88 507.48,715.61 507.68,718.37 507.89,721.11 508.09,723.84 508.3,726.73 508.5,729.75 508.71,732.85 508.91,735.99 509.11,739.12 509.32,742.2 509.52,745.17 509.73,748.01 509.93,750.78 510.14,753.53 510.34,756.24 510.54,758.9 510.75,761.5 510.95,764.03 511.16,766.49 511.36,768.85 511.57,771.17 511.77,773.48 511.97,775.78 512.18,778.04 512.38,780.27 512.59,782.44 512.79,784.54 512.99,786.57 513.2,788.51 513.4,790.34 513.61,792.06 513.81,793.66 514.02,795.14 514.22,796.57 514.42,797.95 514.63,799.28 514.83,800.57 515.04,801.82 515.24,803.03 515.45,804.19 515.65,805.31 515.85,806.4 516.06,807.45 516.26,808.46 516.47,809.44 516.67,810.38 516.88,811.29 517.08,812.18 517.28,813.03 517.49,813.83 517.69,814.59 517.9,815.32 518.1,816.01 518.31,816.68 518.51,817.33 518.71,817.97 518.92,818.6 519.12,819.3 519.33,820.05 519.53,820.79 519.74,821.46 519.94,822 520.14,822.32 520.35,822.37 520.55,821.95 520.76,821.14 520.96,820.12 521.16,819.08 521.37,818.18 521.57,817.35 521.78,816.54 521.98,815.73 522.19,814.9 522.39,814.03 522.59,813.1 522.8,812.1 523,810.99 523.21,809.78 523.41,808.37 523.62,806.58 523.82,804.45 524.02,802.09 524.23,799.6 524.43,797.07 524.64,794.62 524.84,792.32 525.05,790.28 525.25,788.38 525.45,786.54 525.66,784.75 525.86,783 526.07,781.29 526.27,779.62 526.48,777.96 526.68,776.34 526.88,774.72 527.09,773.11 527.29,771.51 527.5,769.9 527.7,768.29 527.91,766.69 528.11,765.08 528.31,763.49 528.52,761.91 528.72,760.35 528.93,758.82 529.13,757.3 529.34,755.82 529.54,754.37 529.74,752.96 529.95,751.59 530.15,750.27 530.36,748.98 530.56,747.72 530.76,746.48 530.97,745.27 531.17,744.08 531.38,742.91 531.58,741.77 531.79,740.64 531.99,739.52 532.19,738.42 532.4,737.33 532.6,736.26 532.81,735.19 533.01,734.13 533.22,733.07 533.42,732.02 533.62,730.97 533.83,729.92 534.03,728.88 534.24,727.84 534.44,726.81 534.65,725.78 534.85,724.76 535.05,723.75 535.26,722.76 535.46,721.78 535.67,720.81 535.87,719.85 536.08,718.92 536.28,718 536.48,717.11 536.69,716.23 536.89,715.38 537.1,714.55 537.3,713.74 537.51,712.95 537.71,712.17 537.91,711.4 538.12,710.65 538.32,709.9 538.53,709.17 538.73,708.45 538.94,707.74 539.14,707.04 539.34,706.35 539.55,705.66 539.75,704.99 539.96,704.33 540.16,703.67 540.36,703.02 540.57,702.38 540.77,701.74 540.98,701.12 541.18,700.49 541.39,699.88 541.59,699.26 541.79,698.66 542,698.05 542.2,697.46 542.41,696.87 542.61,696.28 542.82,695.71 543.02,695.14 543.22,694.59 543.43,694.04 543.63,693.51 543.84,692.99 544.04,692.48 544.25,691.99 544.45,691.51 544.65,691.04 544.86,690.58 545.06,690.14 545.27,689.7 545.47,689.27 545.68,688.85 545.88,688.45 546.08,688.05 546.29,687.67 546.49,687.3 546.7,687.01 546.9,687.1 547.11,687.28 547.31,687.54 547.51,687.86 547.72,688.25 547.92,688.68 548.13,689.15 548.33,689.65 548.53,690.16 548.74,690.7 548.94,691.32 549.15,692.05 549.35,692.87 549.56,693.8 549.76,694.81 549.96,695.92 550.17,697.11 550.37,698.38 550.58,699.73 550.78,701.15 550.99,702.69 551.19,704.55 551.39,706.71 551.6,709.1 551.8,711.67 552.01,714.36 552.21,717.11 552.42,719.87 552.62,722.58 552.82,725.4 553.03,728.37 553.23,731.44 553.44,734.57 553.64,737.71 553.85,740.81 554.05,743.84 554.25,746.74 554.46,749.53 554.66,752.29 554.87,755.02 555.07,757.7 555.28,760.33 555.48,762.89 555.68,765.38 555.89,767.79 556.09,770.12 556.3,772.43 556.5,774.74 556.71,777.02 556.91,779.26 557.11,781.46 557.32,783.6 557.52,785.66 557.73,787.64 557.93,789.52 558.13,791.3 558.34,792.95 558.54,794.47 558.75,795.92 558.95,797.33 559.16,798.68 559.36,799.99 559.56,801.26 559.77,802.48 559.97,803.67 560.18,804.81 560.38,805.91 560.59,806.98 560.79,808 560.99,809 561.2,809.96 561.4,810.88 561.61,811.78 561.81,812.64 562.02,813.47 562.22,814.25 562.42,814.99 562.63,815.7 562.83,816.38 563.04,817.04 563.24,817.68 563.45,818.32 563.65,818.97 563.85,819.71 564.06,820.46 564.26,821.17 564.47,821.78 564.67,822.2 564.88,822.4 565.08,822.2 565.28,821.54 565.49,820.59 565.69,819.54 565.9,818.56 566.1,817.72 566.31,816.91 566.51,816.1 566.71,815.28 566.92,814.43 567.12,813.53 567.33,812.56 567.53,811.51 567.73,810.34 567.94,809.05 568.14,807.44 568.35,805.45 568.55,803.18 568.76,800.74 568.96,798.22 569.16,795.72 569.37,793.34 569.57,791.17 569.78,789.24 569.98,787.37 570.19,785.56 570.39,783.79 570.59,782.06 570.8,780.37 571,778.71 571.21,777.07 571.41,775.45 571.62,773.84 571.82,772.24 572.02,770.63 572.23,769.02 572.43,767.42 572.64,765.81 572.84,764.21 573.05,762.63 573.25,761.06 573.45,759.51 573.66,757.99 573.86,756.49 574.07,755.03 574.27,753.6 574.48,752.21 574.68,750.86 574.88,749.56 575.09,748.28 575.29,747.04 575.5,745.82 575.7,744.62 575.9,743.44 576.11,742.29 576.31,741.15 576.52,740.03 576.72,738.92 576.93,737.83 577.13,736.74 577.33,735.67 577.54,734.61 577.74,733.55 577.95,732.5 578.15,731.45 578.36,730.4 578.56,729.35 578.76,728.31 578.97,727.27 579.17,726.24 579.38,725.22 579.58,724.21 579.79,723.21 579.99,722.22 580.19,721.24 580.4,720.28 580.6,719.34 580.81,718.42 581.01,717.51 581.22,716.63 581.42,715.76 581.62,714.92 581.83,714.11 582.03,713.31 582.24,712.52 582.44,711.75 582.65,710.99 582.85,710.24 583.05,709.5 583.26,708.78 583.46,708.06 583.67,707.35 583.87,706.66 584.08,705.97 584.28,705.3 584.48,704.63 584.69,703.97 584.89,703.31 585.1,702.67 585.3,702.03 585.5,701.4 585.71,700.77 585.91,700.15 586.12,699.54 586.32,698.93 586.53,698.33 586.73,697.73 586.93,697.13 587.14,696.55 587.34,695.97 587.55,695.4 587.75,694.84 587.96,694.29 588.16,693.75 588.36,693.23 588.57,692.71 588.77,692.21 588.98,691.73 589.18,691.25 589.39,690.79 589.59,690.34 589.79,689.9 590,689.46 590.2,689.04 590.41,688.63 590.61,688.23 590.82,687.84 591.02,687.46 591.22,687.1 591.43,687.05 591.63,687.19 591.84,687.41 592.04,687.71 592.25,688.06 592.45,688.48 592.65,688.93 592.86,689.42 593.06,689.93 593.27,690.45 593.47,691.02 593.67,691.7 593.88,692.49 594.08,693.37 594.29,694.34 594.49,695.41 594.7,696.56 594.9,697.8 595.1,699.11 595.31,700.5 595.51,701.96 595.72,703.67 595.92,705.7 596.13,707.99 596.33,710.48 596.53,713.13 596.74,715.86 596.94,718.62 597.15,721.36 597.35,724.1 597.56,727 597.76,730.03 597.96,733.14 598.17,736.28 598.37,739.41 598.58,742.48 598.78,745.44 598.99,748.26 599.19,751.04 599.39,753.78 599.6,756.49 599.8,759.14 600.01,761.74 600.21,764.26 600.42,766.71 600.62,769.06 600.82,771.38 601.03,773.69 601.23,775.99 601.44,778.25 601.64,780.47 601.85,782.63 602.05,784.73 602.25,786.75 602.46,788.68 602.66,790.5 602.87,792.21 603.07,793.8 603.27,795.27 603.48,796.7 603.68,798.07 603.89,799.4 604.09,800.69 604.3,801.93 604.5,803.13 604.7,804.29 604.91,805.41 605.11,806.5 605.32,807.54 605.52,808.55 605.73,809.53 605.93,810.47 606.13,811.38 606.34,812.26 606.54,813.1 606.75,813.9 606.95,814.66 607.16,815.38 607.36,816.08 607.56,816.74 607.77,817.39 607.97,818.03 608.18,818.66 608.38,819.37 608.59,820.12 608.79,820.86 608.99,821.52 609.2,822.04 609.4,822.34 609.61,822.36 609.81,821.89 610.02,821.05 610.22,820.02 610.42,818.99 610.63,818.1 610.83,817.28 611.04,816.47 611.24,815.66 611.45,814.82 611.65,813.95 611.85,813.01 612.06,812 612.26,810.89 612.47,809.66 612.67,808.22 612.87,806.39 613.08,804.24 613.28,801.87 613.49,799.37 613.69,796.84 613.9,794.4 614.1,792.12 614.3,790.11 614.51,788.21 614.71,786.37 614.92,784.59 615.12,782.84 615.33,781.14 615.53,779.46 615.73,777.81 615.94,776.19 616.14,774.57 616.35,772.97 616.55,771.36 616.76,769.75 616.96,768.15 617.16,766.54 617.37,764.94 617.57,763.35 617.78,761.77 617.98,760.21 618.19,758.68 618.39,757.17 618.59,755.69 618.8,754.24 619,752.83 619.21,751.47 619.41,750.15 619.62,748.86 619.82,747.6 620.02,746.37 620.23,745.16 620.43,743.97 620.64,742.81 620.84,741.66 621.04,740.53 621.25,739.42 621.45,738.32 621.66,737.23 621.86,736.16 622.07,735.09 622.27,734.03 622.47,732.98 622.68,731.93 622.88,730.88 623.09,729.83 623.29,728.78 623.5,727.74 623.7,726.71 623.9,725.69 624.11,724.67 624.31,723.66 624.52,722.67 624.72,721.69 624.93,720.72 625.13,719.77 625.33,718.83 625.54,717.92 625.74,717.02 625.95,716.15 626.15,715.3 626.36,714.47 626.56,713.67 626.76,712.88 626.97,712.1 627.17,711.33 627.38,710.58 627.58,709.84 627.79,709.1 627.99,708.38 628.19,707.67 628.4,706.97 628.6,706.28 628.81,705.6 629.01,704.93 629.22,704.27 629.42,703.61 629.62,702.96 629.83,702.32 630.03,701.69 630.24,701.06 630.44,700.44 630.64,699.82 630.85,699.21 631.05,698.6 631.26,698 631.46,697.4 631.67,696.81 631.87,696.23 632.07,695.66 632.28,695.09 632.48,694.54 632.69,694 632.89,693.46 633.1,692.94 633.3,692.44 633.5,691.94 633.71,691.47 633.91,691 634.12,690.54 634.32,690.1 634.53,689.66 634.73,689.23 634.93,688.82 635.14,688.41 635.34,688.02 635.55,687.63 635.75,687.26 635.96,687.01 636.16,687.11 636.36,687.3 636.57,687.56 636.77,687.9 636.98,688.28 637.18,688.72 637.39,689.19 637.59,689.69 637.79,690.21 638,690.75 638.2,691.38 638.41,692.12 638.61,692.95 638.82,693.89 639.02,694.91 639.22,696.03 639.43,697.23 639.63,698.51 639.84,699.86 640.04,701.29 640.24,702.85 640.45,704.74 640.65,706.92 640.86,709.33 641.06,711.91 641.27,714.61 641.47,717.37 641.67,720.12 641.88,722.84 642.08,725.67 642.29,728.65 642.49,731.72 642.7,734.86 642.9,738 643.1,741.1 643.31,744.11 643.51,747 643.72,749.78 643.92,752.54 644.13,755.27 644.33,757.94 644.53,760.57 644.74,763.12 644.94,765.61 645.15,768.01 645.35,770.33 645.56,772.65 645.76,774.95 645.96,777.23 646.17,779.47 646.37,781.66 646.58,783.79 646.78,785.84 646.99,787.82 647.19,789.69 647.39,791.45 647.6,793.1 647.8,794.61 648.01,796.06 648.21,797.45 648.41,798.81 648.62,800.11 648.82,801.37 649.03,802.59 649.23,803.77 649.44,804.91 649.64,806.01 649.84,807.07 650.05,808.1 650.25,809.09 650.46,810.04 650.66,810.97 650.87,811.86 651.07,812.72 651.27,813.54 651.48,814.32 651.68,815.06 651.89,815.76 652.09,816.44 652.3,817.1 652.5,817.74" fill="none" stroke="#f42f78" stroke-width="1.5" stroke-linejoin="round"/>
<g fill="#f8f5ee" stroke="#4c8ef3" stroke-width="1.1"><circle cx="407.9" cy="693.17" r="2.15"/><circle cx="408.7" cy="691.48" r="2.15"/><circle cx="409.5" cy="690.02" r="2.15"/><circle cx="410.3" cy="689.2" r="2.15"/><circle cx="411.1" cy="688.85" r="2.15"/><circle cx="411.9" cy="688.61" r="2.15"/><circle cx="412.7" cy="688.5" r="2.15"/><circle cx="413.5" cy="689" r="2.15"/><circle cx="414.3" cy="689.84" r="2.15"/><circle cx="415.1" cy="691.06" r="2.15"/><circle cx="415.9" cy="693.13" r="2.15"/><circle cx="416.7" cy="697.61" r="2.15"/><circle cx="417.5" cy="705.39" r="2.15"/><circle cx="418.3" cy="714.22" r="2.15"/><circle cx="419.1" cy="724.93" r="2.15"/><circle cx="419.9" cy="736.13" r="2.15"/><circle cx="420.7" cy="750.47" r="2.15"/><circle cx="421.5" cy="763.94" r="2.15"/><circle cx="422.3" cy="773.26" r="2.15"/><circle cx="423.1" cy="784.14" r="2.15"/><circle cx="423.9" cy="790.87" r="2.15"/><circle cx="424.7" cy="798.17" r="2.15"/><circle cx="425.5" cy="804.25" r="2.15"/><circle cx="426.3" cy="808.86" r="2.15"/><circle cx="427.1" cy="812.8" r="2.15"/><circle cx="427.9" cy="815.49" r="2.15"/><circle cx="428.7" cy="817.31" r="2.15"/><circle cx="429.5" cy="818.64" r="2.15"/><circle cx="430.3" cy="819.6" r="2.15"/><circle cx="431.1" cy="818.18" r="2.15"/><circle cx="431.9" cy="810.48" r="2.15"/><circle cx="432.7" cy="802.36" r="2.15"/><circle cx="433.5" cy="791.31" r="2.15"/><circle cx="434.3" cy="784.57" r="2.15"/><circle cx="435.1" cy="778.61" r="2.15"/><circle cx="435.9" cy="771.12" r="2.15"/><circle cx="436.7" cy="765.87" r="2.15"/><circle cx="437.5" cy="757.8" r="2.15"/><circle cx="438.3" cy="752.52" r="2.15"/><circle cx="439.1" cy="748.2" r="2.15"/><circle cx="439.9" cy="743.81" r="2.15"/><circle cx="440.7" cy="738.56" r="2.15"/><circle cx="441.5" cy="734.36" r="2.15"/><circle cx="442.3" cy="730.4" r="2.15"/><circle cx="443.1" cy="726.5" r="2.15"/><circle cx="443.9" cy="722.61" r="2.15"/><circle cx="444.7" cy="718.83" r="2.15"/><circle cx="445.5" cy="715.2" r="2.15"/><circle cx="446.3" cy="711.97" r="2.15"/><circle cx="447.1" cy="709.01" r="2.15"/><circle cx="447.9" cy="706.16" r="2.15"/><circle cx="448.7" cy="703.49" r="2.15"/><circle cx="449.5" cy="701.05" r="2.15"/><circle cx="450.3" cy="698.78" r="2.15"/><circle cx="451.1" cy="696.59" r="2.15"/><circle cx="451.9" cy="694.53" r="2.15"/><circle cx="452.7" cy="692.79" r="2.15"/><circle cx="453.5" cy="691.12" r="2.15"/><circle cx="454.3" cy="689.77" r="2.15"/><circle cx="455.1" cy="689.11" r="2.15"/><circle cx="455.9" cy="688.79" r="2.15"/><circle cx="456.7" cy="688.57" r="2.15"/><circle cx="457.5" cy="688.54" r="2.15"/><circle cx="458.3" cy="689.17" r="2.15"/><circle cx="459.1" cy="690.07" r="2.15"/><circle cx="459.9" cy="691.42" r="2.15"/><circle cx="460.7" cy="693.83" r="2.15"/><circle cx="461.5" cy="699.61" r="2.15"/><circle cx="462.3" cy="707.03" r="2.15"/><circle cx="463.1" cy="716.69" r="2.15"/><circle cx="463.9" cy="727.31" r="2.15"/><circle cx="464.7" cy="738.88" r="2.15"/><circle cx="465.5" cy="754.24" r="2.15"/><circle cx="466.3" cy="766.33" r="2.15"/><circle cx="467.1" cy="775.24" r="2.15"/><circle cx="467.9" cy="786.22" r="2.15"/><circle cx="468.7" cy="792.1" r="2.15"/><circle cx="469.5" cy="800.05" r="2.15"/><circle cx="470.3" cy="805.26" r="2.15"/><circle cx="471.1" cy="809.9" r="2.15"/><circle cx="471.9" cy="813.49" r="2.15"/><circle cx="472.7" cy="815.95" r="2.15"/><circle cx="473.5" cy="817.64" r="2.15"/><circle cx="474.3" cy="818.93" r="2.15"/><circle cx="475.1" cy="819.55" r="2.15"/><circle cx="475.9" cy="817.5" r="2.15"/><circle cx="476.7" cy="808.74" r="2.15"/><circle cx="477.5" cy="799.84" r="2.15"/><circle cx="478.3" cy="789.49" r="2.15"/><circle cx="479.1" cy="783.2" r="2.15"/><circle cx="479.9" cy="777.13" r="2.15"/><circle cx="480.7" cy="769.72" r="2.15"/><circle cx="481.5" cy="764.59" r="2.15"/><circle cx="482.3" cy="756.32" r="2.15"/><circle cx="483.1" cy="751.55" r="2.15"/><circle cx="483.9" cy="747.28" r="2.15"/><circle cx="484.7" cy="742.62" r="2.15"/><circle cx="485.5" cy="737.55" r="2.15"/><circle cx="486.3" cy="733.48" r="2.15"/><circle cx="487.1" cy="729.52" r="2.15"/><circle cx="487.9" cy="725.62" r="2.15"/><circle cx="488.7" cy="721.74" r="2.15"/><circle cx="489.5" cy="717.99" r="2.15"/><circle cx="490.3" cy="714.44" r="2.15"/><circle cx="491.1" cy="711.29" r="2.15"/><circle cx="491.9" cy="708.35" r="2.15"/><circle cx="492.7" cy="705.54" r="2.15"/><circle cx="493.5" cy="702.92" r="2.15"/><circle cx="494.3" cy="700.52" r="2.15"/><circle cx="495.1" cy="698.28" r="2.15"/><circle cx="495.9" cy="696.1" r="2.15"/><circle cx="496.7" cy="694.11" r="2.15"/><circle cx="497.5" cy="692.41" r="2.15"/><circle cx="498.3" cy="690.77" r="2.15"/><circle cx="499.1" cy="689.55" r="2.15"/><circle cx="499.9" cy="689.03" r="2.15"/><circle cx="500.7" cy="688.73" r="2.15"/><circle cx="501.5" cy="688.54" r="2.15"/><circle cx="502.3" cy="688.65" r="2.15"/><circle cx="503.1" cy="689.35" r="2.15"/><circle cx="503.9" cy="690.32" r="2.15"/><circle cx="504.7" cy="691.82" r="2.15"/><circle cx="505.5" cy="694.65" r="2.15"/><circle cx="506.3" cy="701.46" r="2.15"/><circle cx="507.1" cy="708.82" r="2.15"/><circle cx="507.9" cy="719.15" r="2.15"/><circle cx="508.7" cy="729.76" r="2.15"/><circle cx="509.5" cy="741.81" r="2.15"/><circle cx="510.3" cy="757.34" r="2.15"/><circle cx="511.1" cy="768.55" r="2.15"/><circle cx="511.9" cy="777.44" r="2.15"/><circle cx="512.7" cy="787.8" r="2.15"/><circle cx="513.5" cy="793.48" r="2.15"/><circle cx="514.3" cy="801.47" r="2.15"/><circle cx="515.1" cy="806.27" r="2.15"/><circle cx="515.9" cy="810.86" r="2.15"/><circle cx="516.7" cy="814.14" r="2.15"/><circle cx="517.5" cy="816.38" r="2.15"/><circle cx="518.3" cy="817.95" r="2.15"/><circle cx="519.1" cy="819.2" r="2.15"/><circle cx="519.9" cy="819.34" r="2.15"/><circle cx="520.7" cy="816.35" r="2.15"/><circle cx="521.5" cy="807.12" r="2.15"/><circle cx="522.3" cy="797.33" r="2.15"/><circle cx="523.1" cy="787.96" r="2.15"/><circle cx="523.9" cy="781.89" r="2.15"/><circle cx="524.7" cy="775.44" r="2.15"/><circle cx="525.5" cy="768.54" r="2.15"/><circle cx="526.3" cy="762.98" r="2.15"/><circle cx="527.1" cy="755.08" r="2.15"/><circle cx="527.9" cy="750.55" r="2.15"/><circle cx="528.7" cy="746.34" r="2.15"/><circle cx="529.5" cy="741.39" r="2.15"/><circle cx="530.3" cy="736.59" r="2.15"/><circle cx="531.1" cy="732.59" r="2.15"/><circle cx="531.9" cy="728.64" r="2.15"/><circle cx="532.7" cy="724.74" r="2.15"/><circle cx="533.5" cy="720.89" r="2.15"/><circle cx="534.3" cy="717.16" r="2.15"/><circle cx="535.1" cy="713.7" r="2.15"/><circle cx="535.9" cy="710.62" r="2.15"/><circle cx="536.7" cy="707.71" r="2.15"/><circle cx="537.5" cy="704.93" r="2.15"/><circle cx="538.3" cy="702.37" r="2.15"/><circle cx="539.1" cy="700.01" r="2.15"/><circle cx="539.9" cy="697.79" r="2.15"/><circle cx="540.7" cy="695.63" r="2.15"/><circle cx="541.5" cy="693.71" r="2.15"/><circle cx="542.3" cy="692.03" r="2.15"/><circle cx="543.1" cy="690.45" r="2.15"/><circle cx="543.9" cy="689.37" r="2.15"/><circle cx="544.7" cy="688.95" r="2.15"/><circle cx="545.5" cy="688.67" r="2.15"/><circle cx="546.3" cy="688.52" r="2.15"/><circle cx="547.1" cy="688.78" r="2.15"/><circle cx="547.9" cy="689.54" r="2.15"/><circle cx="548.7" cy="690.6" r="2.15"/><circle cx="549.5" cy="692.29" r="2.15"/><circle cx="550.3" cy="695.6" r="2.15"/><circle cx="551.1" cy="703.1" r="2.15"/><circle cx="551.9" cy="710.86" r="2.15"/><circle cx="552.7" cy="721.53" r="2.15"/><circle cx="553.5" cy="732.31" r="2.15"/><circle cx="554.3" cy="744.96" r="2.15"/><circle cx="555.1" cy="760.19" r="2.15"/><circle cx="555.9" cy="770.54" r="2.15"/><circle cx="556.7" cy="780.14" r="2.15"/><circle cx="557.5" cy="789.13" r="2.15"/><circle cx="558.3" cy="795.18" r="2.15"/><circle cx="559.1" cy="802.69" r="2.15"/><circle cx="559.9" cy="807.32" r="2.15"/><circle cx="560.7" cy="811.71" r="2.15"/><circle cx="561.5" cy="814.74" r="2.15"/><circle cx="562.3" cy="816.78" r="2.15"/><circle cx="563.1" cy="818.24" r="2.15"/><circle cx="563.9" cy="819.43" r="2.15"/><circle cx="564.7" cy="818.96" r="2.15"/><circle cx="565.5" cy="813.92" r="2.15"/><circle cx="566.3" cy="805.41" r="2.15"/><circle cx="567.1" cy="794.78" r="2.15"/><circle cx="567.9" cy="786.57" r="2.15"/><circle cx="568.7" cy="780.58" r="2.15"/><circle cx="569.5" cy="773.61" r="2.15"/><circle cx="570.3" cy="767.46" r="2.15"/><circle cx="571.1" cy="760.84" r="2.15"/><circle cx="571.9" cy="753.97" r="2.15"/><circle cx="572.7" cy="749.56" r="2.15"/><circle cx="573.5" cy="745.36" r="2.15"/><circle cx="574.3" cy="740.17" r="2.15"/><circle cx="575.1" cy="735.66" r="2.15"/><circle cx="575.9" cy="731.69" r="2.15"/><circle cx="576.7" cy="727.76" r="2.15"/><circle cx="577.5" cy="723.87" r="2.15"/><circle cx="578.3" cy="720.04" r="2.15"/><circle cx="579.1" cy="716.34" r="2.15"/><circle cx="579.9" cy="712.98" r="2.15"/><circle cx="580.7" cy="709.96" r="2.15"/><circle cx="581.5" cy="707.07" r="2.15"/><circle cx="582.3" cy="704.33" r="2.15"/><circle cx="583.1" cy="701.82" r="2.15"/><circle cx="583.9" cy="699.5" r="2.15"/><circle cx="584.7" cy="697.3" r="2.15"/><circle cx="585.5" cy="695.17" r="2.15"/><circle cx="586.3" cy="693.33" r="2.15"/><circle cx="587.1" cy="691.65" r="2.15"/><circle cx="587.9" cy="690.15" r="2.15"/><circle cx="588.7" cy="689.24" r="2.15"/><circle cx="589.5" cy="688.88" r="2.15"/><circle cx="590.3" cy="688.63" r="2.15"/><circle cx="591.1" cy="688.5" r="2.15"/><circle cx="591.9" cy="688.93" r="2.15"/><circle cx="592.7" cy="689.74" r="2.15"/><circle cx="593.5" cy="690.91" r="2.15"/><circle cx="594.3" cy="692.85" r="2.15"/><circle cx="595.1" cy="696.83" r="2.15"/><circle cx="595.9" cy="704.68" r="2.15"/><circle cx="596.7" cy="713.14" r="2.15"/><circle cx="597.5" cy="723.88" r="2.15"/><circle cx="598.3" cy="734.94" r="2.15"/><circle cx="599.1" cy="748.7" r="2.15"/><circle cx="599.9" cy="762.82" r="2.15"/><circle cx="600.7" cy="772.42" r="2.15"/><circle cx="601.5" cy="782.98" r="2.15"/><circle cx="602.3" cy="790.34" r="2.15"/><circle cx="603.1" cy="797.24" r="2.15"/><circle cx="603.9" cy="803.79" r="2.15"/><circle cx="604.7" cy="808.39" r="2.15"/><circle cx="605.5" cy="812.47" r="2.15"/><circle cx="606.3" cy="815.27" r="2.15"/><circle cx="607.1" cy="817.15" r="2.15"/><circle cx="607.9" cy="818.51" r="2.15"/><circle cx="608.7" cy="819.57" r="2.15"/><circle cx="609.5" cy="818.45" r="2.15"/><circle cx="610.3" cy="811.36" r="2.15"/><circle cx="611.1" cy="803.4" r="2.15"/><circle cx="611.9" cy="792.29" r="2.15"/><circle cx="612.7" cy="785.2" r="2.15"/><circle cx="613.5" cy="779.24" r="2.15"/><circle cx="614.3" cy="771.84" r="2.15"/><circle cx="615.1" cy="766.38" r="2.15"/><circle cx="615.9" cy="758.65" r="2.15"/><circle cx="616.7" cy="752.95" r="2.15"/><circle cx="617.5" cy="748.61" r="2.15"/><circle cx="618.3" cy="744.31" r="2.15"/><circle cx="619.1" cy="739.03" r="2.15"/><circle cx="619.9" cy="734.76" r="2.15"/><circle cx="620.7" cy="730.8" r="2.15"/><circle cx="621.5" cy="726.89" r="2.15"/><circle cx="622.3" cy="722.99" r="2.15"/><circle cx="623.1" cy="719.2" r="2.15"/><circle cx="623.9" cy="715.55" r="2.15"/><circle cx="624.7" cy="712.28" r="2.15"/><circle cx="625.5" cy="709.3" r="2.15"/><circle cx="626.3" cy="706.43" r="2.15"/><circle cx="627.1" cy="703.74" r="2.15"/><circle cx="627.9" cy="701.28" r="2.15"/><circle cx="628.7" cy="699" r="2.15"/><circle cx="629.5" cy="696.8" r="2.15"/><circle cx="630.3" cy="694.72" r="2.15"/><circle cx="631.1" cy="692.96" r="2.15"/><circle cx="631.9" cy="691.28" r="2.15"/><circle cx="632.7" cy="689.88" r="2.15"/><circle cx="633.5" cy="689.15" r="2.15"/><circle cx="634.3" cy="688.81" r="2.15"/><circle cx="635.1" cy="688.59" r="2.15"/><circle cx="635.9" cy="688.5" r="2.15"/><circle cx="636.7" cy="689.09" r="2.15"/><circle cx="637.5" cy="689.96" r="2.15"/><circle cx="638.3" cy="691.26" r="2.15"/><circle cx="639.1" cy="693.51" r="2.15"/><circle cx="639.9" cy="698.71" r="2.15"/><circle cx="640.7" cy="706.29" r="2.15"/><circle cx="641.5" cy="715.58" r="2.15"/><circle cx="642.3" cy="726.24" r="2.15"/><circle cx="643.1" cy="737.64" r="2.15"/><circle cx="643.9" cy="752.64" r="2.15"/><circle cx="644.7" cy="765.28" r="2.15"/><circle cx="645.5" cy="774.34" r="2.15"/><circle cx="646.3" cy="785.4" r="2.15"/><circle cx="647.1" cy="791.54" r="2.15"/><circle cx="647.9" cy="799.27" r="2.15"/><circle cx="648.7" cy="804.81" r="2.15"/><circle cx="649.5" cy="809.45" r="2.15"/><circle cx="650.3" cy="813.19" r="2.15"/><circle cx="651.1" cy="815.75" r="2.15"/><circle cx="651.9" cy="817.5" r="2.15"/></g>
<circle cx="421.5" cy="643.1" r="1.9" fill="none" stroke="#4c8ef3" stroke-width="1.1"/>
<line x1="413.5" y1="662.3" x2="430.3" y2="662.3" stroke="#f42f78" stroke-width="1.6" />
<text x="432.8" y="648.7" font-size="16.8" font-weight="normal" font-style="normal" text-anchor="start" fill="#000" >Measurements</text>
<text x="432.8" y="668.2" font-size="16.8" font-weight="normal" font-style="normal" text-anchor="start" fill="#000" >Simulations</text>
<text transform="translate(364.7,733.3) rotate(-90)" font-size="18.6" fill="#262626" text-anchor="middle"><tspan font-style="italic">V</tspan><tspan font-size="14.8" dy="6.6">spike</tspan><tspan dy="-6.6"> (V)</tspan></text>
<text x="530.0" y="884.6" font-size="18.6" fill="#262626" text-anchor="middle">Time (s)</text>
</svg></body></html>
